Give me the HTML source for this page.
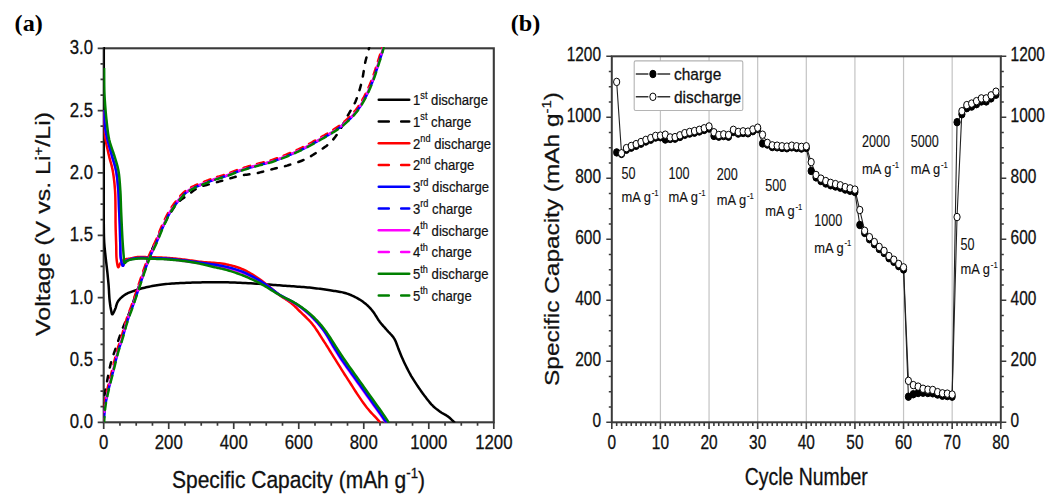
<!DOCTYPE html>
<html><head><meta charset="utf-8"><style>html,body{margin:0;padding:0;background:#fff;width:1051px;height:497px;overflow:hidden}svg{display:block}</style></head>
<body><svg width="1051" height="497" viewBox="0 0 1051 497" font-family="'Liberation Sans', sans-serif">
<rect width="1051" height="497" fill="#fff"/>
<text transform="translate(14.60,30.80) scale(1.09,1)" text-anchor="start" font-size="22.2" fill="#000" font-family="Liberation Serif" font-weight="bold">(a)</text>
<text transform="translate(510.80,30.80) scale(1.09,1)" text-anchor="start" font-size="22.2" fill="#000" font-family="Liberation Serif" font-weight="bold">(b)</text>
<path d="M97.7,422.30H103.7M100.5,406.72H103.7M100.5,391.13H103.7M100.5,375.55H103.7M97.7,359.97H103.7M100.5,344.38H103.7M100.5,328.80H103.7M100.5,313.22H103.7M97.7,297.63H103.7M100.5,282.05H103.7M100.5,266.47H103.7M100.5,250.88H103.7M97.7,235.30H103.7M100.5,219.72H103.7M100.5,204.13H103.7M100.5,188.55H103.7M97.7,172.97H103.7M100.5,157.38H103.7M100.5,141.80H103.7M100.5,126.22H103.7M97.7,110.63H103.7M100.5,95.05H103.7M100.5,79.47H103.7M100.5,63.88H103.7M97.7,48.30H103.7M103.70,422.3V429.1M119.95,422.3V425.7M136.21,422.3V425.7M152.46,422.3V425.7M168.72,422.3V429.1M184.97,422.3V425.7M201.23,422.3V425.7M217.48,422.3V425.7M233.73,422.3V429.1M249.99,422.3V425.7M266.24,422.3V425.7M282.50,422.3V425.7M298.75,422.3V429.1M315.00,422.3V425.7M331.26,422.3V425.7M347.51,422.3V425.7M363.77,422.3V429.1M380.02,422.3V425.7M396.27,422.3V425.7M412.53,422.3V425.7M428.78,422.3V429.1M445.04,422.3V425.7M461.29,422.3V425.7M477.55,422.3V425.7M493.80,422.3V429.1" stroke="#3a3a3a" stroke-width="1.7" fill="none"/>
<text transform="translate(93.00,428.20) scale(0.835,1)" text-anchor="end" font-size="20.1" fill="#111" stroke="#111" stroke-width="0.3">0.0</text>
<text transform="translate(93.00,365.87) scale(0.835,1)" text-anchor="end" font-size="20.1" fill="#111" stroke="#111" stroke-width="0.3">0.5</text>
<text transform="translate(93.00,303.53) scale(0.835,1)" text-anchor="end" font-size="20.1" fill="#111" stroke="#111" stroke-width="0.3">1.0</text>
<text transform="translate(93.00,241.20) scale(0.835,1)" text-anchor="end" font-size="20.1" fill="#111" stroke="#111" stroke-width="0.3">1.5</text>
<text transform="translate(93.00,178.87) scale(0.835,1)" text-anchor="end" font-size="20.1" fill="#111" stroke="#111" stroke-width="0.3">2.0</text>
<text transform="translate(93.00,116.53) scale(0.835,1)" text-anchor="end" font-size="20.1" fill="#111" stroke="#111" stroke-width="0.3">2.5</text>
<text transform="translate(93.00,54.20) scale(0.835,1)" text-anchor="end" font-size="20.1" fill="#111" stroke="#111" stroke-width="0.3">3.0</text>
<text transform="translate(103.70,449.00) scale(0.835,1)" text-anchor="middle" font-size="20.1" fill="#111" stroke="#111" stroke-width="0.3">0</text>
<text transform="translate(168.72,449.00) scale(0.835,1)" text-anchor="middle" font-size="20.1" fill="#111" stroke="#111" stroke-width="0.3">200</text>
<text transform="translate(233.73,449.00) scale(0.835,1)" text-anchor="middle" font-size="20.1" fill="#111" stroke="#111" stroke-width="0.3">400</text>
<text transform="translate(298.75,449.00) scale(0.835,1)" text-anchor="middle" font-size="20.1" fill="#111" stroke="#111" stroke-width="0.3">600</text>
<text transform="translate(363.77,449.00) scale(0.835,1)" text-anchor="middle" font-size="20.1" fill="#111" stroke="#111" stroke-width="0.3">800</text>
<text transform="translate(428.78,449.00) scale(0.835,1)" text-anchor="middle" font-size="20.1" fill="#111" stroke="#111" stroke-width="0.3">1000</text>
<text transform="translate(493.80,449.00) scale(0.835,1)" text-anchor="middle" font-size="20.1" fill="#111" stroke="#111" stroke-width="0.3">1200</text>
<text transform="translate(298.50,487.60) scale(0.893,1)" text-anchor="middle" font-size="23.5" fill="#111" stroke="#111" stroke-width="0.3">Specific Capacity (mAh g<tspan dy="-9.3" font-size="14.8">-1</tspan><tspan dy="9.3">)</tspan></text>
<text transform="translate(50.20,224.00) scale(0.8,1) rotate(-90)" text-anchor="middle" font-size="25.0" fill="#111" stroke="#111" stroke-width="0.3">Voltage (V vs. Li<tspan dy="-9.5" font-size="15">+</tspan><tspan dy="9.5">/Li)</tspan></text>
<defs><clipPath id="ca"><rect x="103.5" y="47" width="391" height="375.5"/></clipPath><clipPath id="cb"><rect x="611" y="55" width="391" height="368"/></clipPath></defs>
<rect x="103.7" y="48.3" width="390.10" height="374.00" fill="none" stroke="#3a3a3a" stroke-width="2.1"/>
<g clip-path="url(#ca)" fill="none" stroke-width="2.5" stroke-linejoin="round">
<path d="M103.80,47.00 L103.80,55.64 L103.80,64.36 L103.80,73.13 L103.80,81.94 L103.80,90.74 L103.80,99.52 L103.80,108.24 L103.80,116.87 L103.80,125.40 L103.80,133.78 L103.80,141.99 L103.80,150.00 L103.80,156.84 L103.79,163.80 L103.77,170.83 L103.76,177.85 L103.74,184.79 L103.73,191.57 L103.72,198.13 L103.72,204.38 L103.72,210.27 L103.73,215.72 L103.76,220.65 L103.80,225.00 L103.82,226.84 L103.84,228.55 L103.86,230.14 L103.87,231.62 L103.89,233.02 L103.92,234.36 L103.94,235.65 L103.98,236.90 L104.02,238.15 L104.07,239.40 L104.13,240.68 L104.20,242.00 L104.28,243.22 L104.36,244.41 L104.46,245.60 L104.56,246.77 L104.66,247.93 L104.78,249.09 L104.89,250.24 L105.01,251.39 L105.13,252.53 L105.26,253.68 L105.38,254.84 L105.50,256.00 L105.62,257.17 L105.75,258.33 L105.88,259.49 L106.02,260.65 L106.15,261.81 L106.29,262.97 L106.43,264.13 L106.57,265.29 L106.70,266.46 L106.84,267.64 L106.97,268.81 L107.10,270.00 L107.23,271.24 L107.37,272.48 L107.50,273.73 L107.63,274.99 L107.76,276.25 L107.89,277.51 L108.02,278.78 L108.14,280.04 L108.26,281.31 L108.38,282.58 L108.49,283.84 L108.60,285.10 L108.70,286.37 L108.78,287.65 L108.86,288.95 L108.94,290.25 L109.01,291.55 L109.07,292.85 L109.14,294.13 L109.22,295.40 L109.30,296.65 L109.39,297.87 L109.49,299.05 L109.60,300.20 L109.70,301.12 L109.81,302.04 L109.92,302.95 L110.04,303.86 L110.16,304.74 L110.29,305.61 L110.41,306.46 L110.55,307.28 L110.68,308.06 L110.82,308.82 L110.96,309.53 L111.10,310.20 L111.19,310.63 L111.28,311.08 L111.36,311.54 L111.45,312.00 L111.53,312.44 L111.62,312.86 L111.71,313.24 L111.81,313.58 L111.92,313.87 L112.03,314.09 L112.16,314.24 L112.30,314.30 L112.48,314.25 L112.68,314.08 L112.90,313.81 L113.13,313.44 L113.37,313.00 L113.62,312.50 L113.88,311.96 L114.13,311.39 L114.39,310.82 L114.63,310.25 L114.87,309.71 L115.10,309.20 L115.35,308.60 L115.58,307.96 L115.80,307.30 L116.00,306.62 L116.20,305.92 L116.41,305.22 L116.62,304.51 L116.85,303.81 L117.11,303.12 L117.40,302.46 L117.73,301.81 L118.10,301.20 L118.55,300.57 L119.03,299.95 L119.56,299.34 L120.12,298.74 L120.70,298.16 L121.31,297.59 L121.94,297.04 L122.58,296.51 L123.23,295.99 L123.89,295.50 L124.55,295.04 L125.20,294.60 L125.82,294.21 L126.46,293.85 L127.10,293.52 L127.75,293.21 L128.42,292.91 L129.09,292.63 L129.76,292.37 L130.44,292.11 L131.13,291.86 L131.82,291.61 L132.51,291.36 L133.20,291.10 L133.91,290.84 L134.61,290.58 L135.30,290.34 L136.00,290.10 L136.70,289.86 L137.40,289.64 L138.13,289.41 L138.87,289.19 L139.63,288.97 L140.42,288.75 L141.24,288.52 L142.10,288.30 L143.37,287.98 L144.71,287.66 L146.10,287.33 L147.55,287.00 L149.04,286.68 L150.57,286.36 L152.13,286.05 L153.72,285.75 L155.33,285.46 L156.95,285.19 L158.57,284.93 L160.20,284.70 L162.08,284.46 L164.01,284.24 L165.97,284.05 L167.96,283.87 L169.98,283.71 L172.02,283.57 L174.07,283.44 L176.13,283.32 L178.18,283.21 L180.24,283.10 L182.28,283.00 L184.30,282.90 L186.32,282.81 L188.35,282.72 L190.38,282.65 L192.41,282.58 L194.45,282.53 L196.48,282.48 L198.51,282.44 L200.54,282.40 L202.55,282.37 L204.55,282.34 L206.53,282.32 L208.50,282.30 L210.32,282.28 L212.11,282.27 L213.87,282.25 L215.61,282.24 L217.35,282.24 L219.08,282.24 L220.82,282.25 L222.59,282.26 L224.38,282.28 L226.20,282.31 L228.07,282.35 L230.00,282.40 L232.41,282.48 L234.91,282.57 L237.49,282.68 L240.12,282.80 L242.79,282.93 L245.49,283.07 L248.19,283.22 L250.88,283.37 L253.54,283.53 L256.16,283.69 L258.72,283.85 L261.20,284.00 L263.33,284.14 L265.41,284.28 L267.47,284.42 L269.50,284.57 L271.50,284.72 L273.50,284.88 L275.48,285.03 L277.45,285.19 L279.43,285.34 L281.41,285.50 L283.39,285.65 L285.40,285.80 L287.42,285.95 L289.44,286.09 L291.48,286.22 L293.51,286.36 L295.55,286.49 L297.58,286.63 L299.60,286.77 L301.62,286.91 L303.62,287.07 L305.60,287.23 L307.56,287.41 L309.50,287.60 L311.28,287.79 L313.05,287.99 L314.82,288.19 L316.58,288.41 L318.33,288.63 L320.06,288.86 L321.78,289.09 L323.47,289.33 L325.14,289.57 L326.79,289.81 L328.41,290.06 L330.00,290.30 L331.34,290.50 L332.67,290.70 L333.98,290.89 L335.28,291.08 L336.56,291.27 L337.82,291.47 L339.06,291.68 L340.29,291.90 L341.50,292.14 L342.68,292.40 L343.85,292.68 L345.00,293.00 L346.00,293.30 L346.97,293.61 L347.93,293.94 L348.88,294.29 L349.81,294.64 L350.72,295.02 L351.63,295.40 L352.52,295.79 L353.40,296.20 L354.28,296.62 L355.14,297.06 L356.00,297.50 L356.82,297.94 L357.63,298.39 L358.44,298.85 L359.23,299.32 L360.02,299.80 L360.79,300.30 L361.56,300.80 L362.31,301.32 L363.05,301.85 L363.78,302.39 L364.50,302.94 L365.20,303.50 L365.87,304.06 L366.52,304.62 L367.16,305.19 L367.78,305.77 L368.40,306.37 L369.00,306.97 L369.60,307.59 L370.19,308.22 L370.77,308.86 L371.35,309.53 L371.93,310.20 L372.50,310.90 L373.13,311.71 L373.75,312.57 L374.36,313.45 L374.95,314.37 L375.54,315.30 L376.12,316.24 L376.70,317.19 L377.29,318.13 L377.88,319.06 L378.47,319.97 L379.08,320.85 L379.70,321.70 L380.29,322.46 L380.88,323.20 L381.48,323.93 L382.09,324.64 L382.70,325.35 L383.32,326.05 L383.93,326.74 L384.55,327.42 L385.17,328.11 L385.78,328.80 L386.39,329.50 L387.00,330.20 L387.61,330.89 L388.23,331.58 L388.87,332.25 L389.50,332.92 L390.14,333.59 L390.77,334.26 L391.39,334.94 L392.00,335.63 L392.59,336.34 L393.16,337.07 L393.69,337.82 L394.20,338.60 L394.70,339.46 L395.16,340.36 L395.60,341.30 L396.01,342.26 L396.39,343.23 L396.77,344.22 L397.13,345.21 L397.48,346.20 L397.83,347.18 L398.18,348.14 L398.53,349.09 L398.90,350.00 L399.22,350.79 L399.54,351.55 L399.84,352.30 L400.13,353.03 L400.43,353.76 L400.72,354.48 L401.02,355.21 L401.32,355.95 L401.64,356.70 L401.97,357.47 L402.33,358.27 L402.70,359.10 L403.22,360.24 L403.77,361.43 L404.35,362.67 L404.96,363.94 L405.58,365.24 L406.22,366.55 L406.87,367.87 L407.54,369.18 L408.20,370.48 L408.87,371.76 L409.54,373.00 L410.20,374.20 L410.81,375.27 L411.42,376.33 L412.05,377.37 L412.67,378.40 L413.30,379.42 L413.94,380.43 L414.58,381.42 L415.22,382.41 L415.86,383.39 L416.51,384.37 L417.15,385.33 L417.80,386.30 L418.41,387.21 L419.03,388.12 L419.65,389.02 L420.26,389.91 L420.88,390.80 L421.51,391.68 L422.13,392.55 L422.76,393.41 L423.39,394.27 L424.02,395.12 L424.66,395.96 L425.30,396.80 L425.92,397.60 L426.53,398.40 L427.15,399.20 L427.77,400.00 L428.40,400.79 L429.03,401.57 L429.66,402.34 L430.29,403.09 L430.94,403.83 L431.58,404.54 L432.24,405.23 L432.90,405.90 L433.50,406.48 L434.11,407.03 L434.72,407.57 L435.34,408.10 L435.96,408.61 L436.59,409.11 L437.21,409.59 L437.85,410.07 L438.48,410.54 L439.12,411.00 L439.76,411.45 L440.40,411.90 L441.03,412.32 L441.66,412.72 L442.31,413.11 L442.97,413.48 L443.62,413.85 L444.28,414.22 L444.93,414.58 L445.58,414.94 L446.21,415.31 L446.82,415.69 L447.42,416.09 L448.00,416.50 L448.52,416.90 L449.04,417.32 L449.55,417.76 L450.07,418.22 L450.57,418.67 L451.06,419.13 L451.53,419.58 L451.98,420.02 L452.40,420.43 L452.80,420.82 L453.17,421.18 L453.50,421.50 L453.66,421.65 L453.81,421.80 L453.95,421.93 L454.07,422.06 L454.20,422.18 L454.31,422.30 L454.43,422.42 L454.54,422.53 L454.65,422.64 L454.76,422.76 L454.88,422.88 L455.00,423.00" stroke="#000"/>
<path d="M103.50,423.00 L103.51,421.91 L103.51,420.83 L103.51,419.74 L103.51,418.65 L103.51,417.56 L103.52,416.47 L103.52,415.38 L103.53,414.29 L103.54,413.21 L103.55,412.14 L103.57,411.06 L103.60,410.00 L103.63,408.99 L103.65,407.99 L103.68,407.00 L103.70,406.01 L103.73,405.03 L103.77,404.06 L103.81,403.07 L103.86,402.08 L103.93,401.08 L104.00,400.07 L104.09,399.05 L104.20,398.00 L104.34,396.79 L104.50,395.58 L104.68,394.35 L104.88,393.11 L105.09,391.86 L105.31,390.60 L105.54,389.32 L105.78,388.03 L106.03,386.72 L106.28,385.40 L106.54,384.06 L106.80,382.70 L107.11,381.08 L107.42,379.42 L107.74,377.71 L108.07,375.97 L108.41,374.20 L108.76,372.43 L109.13,370.66 L109.50,368.91 L109.88,367.17 L110.28,365.47 L110.68,363.81 L111.10,362.20 L111.48,360.83 L111.87,359.50 L112.28,358.19 L112.69,356.91 L113.12,355.64 L113.55,354.39 L113.98,353.14 L114.42,351.89 L114.87,350.64 L115.31,349.37 L115.76,348.10 L116.20,346.80 L116.66,345.42 L117.12,344.04 L117.59,342.65 L118.05,341.25 L118.51,339.85 L118.99,338.45 L119.46,337.04 L119.95,335.63 L120.44,334.22 L120.95,332.81 L121.47,331.40 L122.00,330.00 L122.57,328.56 L123.16,327.11 L123.77,325.67 L124.39,324.23 L125.03,322.80 L125.67,321.35 L126.31,319.91 L126.95,318.46 L127.58,317.01 L128.20,315.55 L128.81,314.08 L129.40,312.60 L129.98,311.07 L130.56,309.53 L131.12,307.97 L131.68,306.41 L132.23,304.84 L132.77,303.26 L133.31,301.69 L133.85,300.12 L134.38,298.57 L134.92,297.03 L135.46,295.50 L136.00,294.00 L136.50,292.63 L137.00,291.30 L137.50,289.99 L137.99,288.70 L138.48,287.41 L138.98,286.13 L139.47,284.84 L139.97,283.54 L140.47,282.21 L140.97,280.85 L141.48,279.45 L142.00,278.00 L142.64,276.16 L143.28,274.23 L143.92,272.23 L144.57,270.17 L145.22,268.08 L145.88,265.98 L146.54,263.88 L147.22,261.79 L147.90,259.74 L148.59,257.75 L149.29,255.83 L150.00,254.00 L150.61,252.53 L151.23,251.10 L151.86,249.70 L152.50,248.33 L153.15,246.99 L153.80,245.67 L154.45,244.37 L155.09,243.08 L155.74,241.80 L156.37,240.53 L156.99,239.27 L157.60,238.00 L158.14,236.86 L158.66,235.74 L159.17,234.62 L159.68,233.52 L160.18,232.42 L160.68,231.34 L161.18,230.26 L161.69,229.18 L162.20,228.11 L162.72,227.04 L163.25,225.97 L163.80,224.90 L164.36,223.83 L164.92,222.75 L165.50,221.67 L166.07,220.59 L166.66,219.52 L167.25,218.45 L167.85,217.39 L168.45,216.34 L169.06,215.31 L169.67,214.28 L170.28,213.28 L170.90,212.30 L171.46,211.41 L172.02,210.53 L172.58,209.65 L173.13,208.78 L173.70,207.92 L174.26,207.08 L174.84,206.25 L175.43,205.44 L176.04,204.64 L176.67,203.87 L177.32,203.12 L178.00,202.40 L178.69,201.72 L179.40,201.08 L180.14,200.47 L180.89,199.88 L181.66,199.31 L182.44,198.75 L183.24,198.20 L184.04,197.65 L184.85,197.10 L185.67,196.55 L186.48,195.98 L187.30,195.40 L188.18,194.75 L189.07,194.07 L189.96,193.38 L190.86,192.68 L191.77,191.98 L192.68,191.28 L193.61,190.60 L194.55,189.94 L195.51,189.30 L196.48,188.69 L197.48,188.12 L198.50,187.60 L199.59,187.11 L200.71,186.66 L201.87,186.26 L203.05,185.89 L204.24,185.54 L205.45,185.22 L206.66,184.92 L207.87,184.62 L209.08,184.32 L210.27,184.03 L211.45,183.72 L212.60,183.40 L213.66,183.09 L214.70,182.80 L215.73,182.50 L216.75,182.21 L217.76,181.93 L218.77,181.64 L219.79,181.36 L220.81,181.07 L221.83,180.79 L222.87,180.50 L223.93,180.20 L225.00,179.90 L226.20,179.56 L227.41,179.20 L228.63,178.83 L229.87,178.46 L231.11,178.08 L232.36,177.71 L233.63,177.34 L234.89,176.98 L236.16,176.63 L237.44,176.30 L238.72,175.99 L240.00,175.70 L241.32,175.44 L242.64,175.21 L243.97,175.00 L245.32,174.82 L246.66,174.65 L248.01,174.48 L249.36,174.32 L250.72,174.15 L252.07,173.97 L253.42,173.77 L254.76,173.55 L256.10,173.30 L257.45,173.02 L258.79,172.71 L260.14,172.39 L261.48,172.05 L262.82,171.71 L264.16,171.35 L265.50,170.99 L266.84,170.62 L268.18,170.26 L269.52,169.90 L270.86,169.54 L272.20,169.20 L273.54,168.87 L274.89,168.55 L276.23,168.23 L277.57,167.92 L278.92,167.60 L280.26,167.29 L281.61,166.97 L282.95,166.64 L284.29,166.30 L285.63,165.95 L286.97,165.59 L288.30,165.20 L289.65,164.80 L291.00,164.40 L292.36,163.99 L293.71,163.58 L295.06,163.15 L296.41,162.71 L297.75,162.26 L299.10,161.78 L300.43,161.28 L301.76,160.75 L303.08,160.19 L304.40,159.60 L305.78,158.93 L307.18,158.21 L308.59,157.45 L309.99,156.66 L311.39,155.84 L312.78,155.00 L314.15,154.15 L315.50,153.30 L316.81,152.45 L318.09,151.61 L319.32,150.79 L320.50,150.00 L321.42,149.39 L322.31,148.79 L323.17,148.20 L324.02,147.63 L324.85,147.05 L325.65,146.47 L326.44,145.89 L327.22,145.29 L327.98,144.68 L328.73,144.05 L329.47,143.39 L330.20,142.70 L330.93,141.97 L331.64,141.23 L332.33,140.47 L333.00,139.70 L333.65,138.91 L334.30,138.10 L334.94,137.28 L335.57,136.43 L336.20,135.56 L336.83,134.66 L337.46,133.74 L338.10,132.80 L338.88,131.60 L339.65,130.34 L340.43,129.03 L341.19,127.68 L341.96,126.29 L342.72,124.88 L343.47,123.46 L344.23,122.04 L344.97,120.62 L345.72,119.22 L346.46,117.84 L347.20,116.50 L347.90,115.27 L348.60,114.07 L349.31,112.89 L350.02,111.72 L350.72,110.55 L351.42,109.39 L352.11,108.22 L352.79,107.03 L353.45,105.82 L354.09,104.59 L354.71,103.31 L355.30,102.00 L355.94,100.47 L356.56,98.90 L357.17,97.28 L357.75,95.63 L358.31,93.96 L358.85,92.26 L359.37,90.55 L359.88,88.83 L360.36,87.11 L360.83,85.39 L361.27,83.69 L361.70,82.00 L362.09,80.34 L362.44,78.65 L362.77,76.95 L363.07,75.24 L363.35,73.53 L363.62,71.82 L363.88,70.13 L364.14,68.45 L364.41,66.81 L364.69,65.19 L364.98,63.62 L365.30,62.10 L365.59,60.84 L365.91,59.55 L366.25,58.25 L366.60,56.96 L366.95,55.69 L367.30,54.45 L367.64,53.26 L367.96,52.13 L368.25,51.08 L368.51,50.11 L368.73,49.25 L368.90,48.50 L368.96,48.22 L369.01,47.97 L369.05,47.74 L369.08,47.52 L369.11,47.32 L369.14,47.13 L369.17,46.94 L369.19,46.76 L369.22,46.58 L369.24,46.39 L369.27,46.20 L369.30,46.00" stroke="#000" stroke-dasharray="5.5,8.5" stroke-linecap="round"/>
<path d="M103.80,112.00 L103.84,113.09 L103.88,114.19 L103.92,115.29 L103.96,116.40 L104.00,117.50 L104.05,118.61 L104.09,119.70 L104.13,120.79 L104.17,121.87 L104.21,122.93 L104.26,123.98 L104.30,125.00 L104.33,125.87 L104.36,126.70 L104.38,127.51 L104.39,128.31 L104.41,129.09 L104.43,129.88 L104.45,130.67 L104.49,131.47 L104.54,132.30 L104.61,133.16 L104.69,134.06 L104.80,135.00 L105.00,136.44 L105.24,137.98 L105.52,139.60 L105.83,141.28 L106.17,143.01 L106.53,144.76 L106.91,146.54 L107.29,148.30 L107.68,150.05 L108.07,151.76 L108.44,153.42 L108.80,155.00 L109.11,156.32 L109.43,157.60 L109.77,158.85 L110.10,160.08 L110.44,161.29 L110.78,162.49 L111.11,163.70 L111.44,164.91 L111.75,166.14 L112.05,167.39 L112.34,168.67 L112.60,170.00 L112.88,171.56 L113.14,173.15 L113.39,174.78 L113.62,176.44 L113.84,178.11 L114.05,179.80 L114.24,181.51 L114.42,183.21 L114.58,184.92 L114.73,186.63 L114.87,188.32 L115.00,190.00 L115.11,191.67 L115.20,193.36 L115.27,195.06 L115.32,196.77 L115.36,198.47 L115.39,200.18 L115.42,201.87 L115.43,203.54 L115.45,205.20 L115.46,206.83 L115.48,208.43 L115.50,210.00 L115.52,211.32 L115.53,212.60 L115.54,213.85 L115.54,215.08 L115.54,216.29 L115.54,217.50 L115.55,218.71 L115.55,219.92 L115.55,221.15 L115.56,222.40 L115.58,223.68 L115.60,225.00 L115.63,226.58 L115.67,228.20 L115.71,229.87 L115.76,231.56 L115.81,233.28 L115.87,235.00 L115.93,236.73 L115.98,238.44 L116.04,240.13 L116.10,241.80 L116.15,243.42 L116.20,245.00 L116.24,246.34 L116.26,247.69 L116.28,249.03 L116.29,250.37 L116.30,251.68 L116.32,252.98 L116.34,254.25 L116.38,255.49 L116.43,256.69 L116.50,257.85 L116.59,258.95 L116.70,260.00 L116.79,260.74 L116.90,261.52 L117.00,262.32 L117.12,263.12 L117.24,263.90 L117.37,264.64 L117.51,265.32 L117.65,265.93 L117.81,266.44 L117.96,266.83 L118.13,267.09 L118.30,267.20 L118.43,267.17 L118.55,267.04 L118.68,266.84 L118.81,266.57 L118.94,266.26 L119.08,265.90 L119.23,265.52 L119.38,265.13 L119.54,264.74 L119.71,264.36 L119.90,264.01 L120.10,263.70 L120.35,263.36 L120.62,263.00 L120.90,262.64 L121.19,262.28 L121.50,261.92 L121.82,261.57 L122.15,261.22 L122.50,260.89 L122.86,260.58 L123.23,260.29 L123.61,260.03 L124.00,259.80 L124.43,259.60 L124.88,259.43 L125.34,259.29 L125.82,259.19 L126.32,259.10 L126.82,259.02 L127.34,258.96 L127.86,258.90 L128.39,258.84 L128.93,258.78 L129.46,258.70 L130.00,258.60 L130.62,258.47 L131.26,258.33 L131.90,258.18 L132.54,258.02 L133.20,257.86 L133.86,257.71 L134.54,257.56 L135.22,257.42 L135.90,257.29 L136.59,257.17 L137.29,257.08 L138.00,257.00 L138.79,256.94 L139.58,256.91 L140.37,256.90 L141.16,256.90 L141.97,256.92 L142.79,256.96 L143.62,257.00 L144.47,257.04 L145.34,257.09 L146.23,257.13 L147.15,257.17 L148.10,257.20 L149.42,257.23 L150.81,257.26 L152.26,257.30 L153.75,257.33 L155.27,257.36 L156.82,257.40 L158.40,257.45 L159.98,257.50 L161.55,257.56 L163.12,257.63 L164.68,257.71 L166.20,257.80 L167.71,257.91 L169.22,258.02 L170.73,258.15 L172.24,258.29 L173.74,258.44 L175.25,258.59 L176.76,258.75 L178.27,258.91 L179.77,259.08 L181.28,259.25 L182.79,259.43 L184.30,259.60 L185.81,259.78 L187.31,259.97 L188.80,260.17 L190.29,260.37 L191.78,260.58 L193.28,260.79 L194.78,261.00 L196.29,261.21 L197.81,261.42 L199.35,261.62 L200.91,261.81 L202.50,262.00 L204.30,262.18 L206.14,262.34 L208.02,262.47 L209.92,262.60 L211.85,262.72 L213.77,262.84 L215.70,262.97 L217.62,263.13 L219.52,263.31 L221.39,263.53 L223.22,263.79 L225.00,264.10 L226.59,264.42 L228.16,264.75 L229.71,265.10 L231.24,265.48 L232.76,265.87 L234.26,266.29 L235.75,266.74 L237.23,267.22 L238.70,267.74 L240.17,268.29 L241.63,268.87 L243.10,269.50 L244.65,270.21 L246.19,270.97 L247.72,271.78 L249.24,272.63 L250.76,273.52 L252.27,274.44 L253.77,275.38 L255.27,276.36 L256.76,277.35 L258.24,278.36 L259.72,279.37 L261.20,280.40 L262.75,281.51 L264.31,282.69 L265.86,283.91 L267.42,285.16 L268.97,286.44 L270.51,287.73 L272.03,289.01 L273.54,290.28 L275.02,291.51 L276.48,292.70 L277.91,293.84 L279.30,294.90 L280.39,295.70 L281.47,296.45 L282.53,297.18 L283.58,297.88 L284.62,298.56 L285.65,299.23 L286.65,299.89 L287.64,300.55 L288.61,301.21 L289.56,301.89 L290.49,302.58 L291.40,303.30 L292.19,303.96 L292.94,304.61 L293.67,305.26 L294.38,305.92 L295.07,306.58 L295.75,307.25 L296.43,307.92 L297.12,308.61 L297.81,309.31 L298.52,310.02 L299.24,310.75 L300.00,311.50 L300.95,312.42 L301.92,313.36 L302.92,314.31 L303.94,315.27 L304.97,316.26 L306.01,317.26 L307.05,318.29 L308.09,319.34 L309.12,320.41 L310.13,321.51 L311.13,322.64 L312.10,323.80 L313.18,325.16 L314.26,326.61 L315.34,328.12 L316.42,329.69 L317.48,331.28 L318.53,332.89 L319.56,334.49 L320.56,336.07 L321.53,337.61 L322.47,339.09 L323.36,340.49 L324.20,341.80 L324.75,342.65 L325.26,343.44 L325.74,344.19 L326.19,344.90 L326.62,345.58 L327.04,346.27 L327.47,346.96 L327.92,347.67 L328.38,348.41 L328.88,349.21 L329.41,350.06 L330.00,351.00 L331.15,352.83 L332.42,354.86 L333.79,357.06 L335.25,359.40 L336.77,361.85 L338.35,364.37 L339.96,366.95 L341.60,369.55 L343.23,372.15 L344.86,374.71 L346.45,377.20 L348.00,379.60 L349.50,381.93 L351.02,384.29 L352.54,386.67 L354.07,389.07 L355.60,391.45 L357.14,393.81 L358.67,396.14 L360.20,398.43 L361.72,400.65 L363.22,402.79 L364.72,404.85 L366.20,406.80 L367.40,408.30 L368.68,409.81 L370.00,411.31 L371.34,412.79 L372.68,414.23 L373.98,415.61 L375.23,416.93 L376.40,418.17 L377.47,419.31 L378.41,420.33 L379.19,421.24 L379.80,422.00 L379.96,422.22 L380.10,422.43 L380.22,422.61 L380.33,422.78 L380.42,422.95 L380.51,423.10 L380.59,423.25 L380.66,423.39 L380.74,423.54 L380.82,423.69 L380.91,423.84 L381.00,424.00" stroke="#ff0000"/>
<path d="M103.00,422.20 L103.02,421.79 L103.03,421.39 L103.04,421.00 L103.05,420.62 L103.06,420.23 L103.07,419.85 L103.09,419.45 L103.10,419.04 L103.12,418.61 L103.14,418.17 L103.17,417.70 L103.20,417.20 L103.26,416.33 L103.32,415.39 L103.39,414.38 L103.47,413.33 L103.55,412.23 L103.65,411.10 L103.75,409.94 L103.86,408.78 L103.98,407.61 L104.11,406.45 L104.25,405.31 L104.40,404.20 L104.57,403.08 L104.75,401.96 L104.94,400.86 L105.14,399.75 L105.35,398.64 L105.58,397.53 L105.81,396.41 L106.05,395.27 L106.30,394.12 L106.56,392.94 L106.82,391.74 L107.10,390.50 L107.46,388.93 L107.84,387.32 L108.23,385.66 L108.65,383.96 L109.08,382.24 L109.52,380.50 L109.97,378.74 L110.42,376.98 L110.87,375.22 L111.32,373.46 L111.77,371.72 L112.20,370.00 L112.63,368.27 L113.07,366.50 L113.51,364.71 L113.95,362.90 L114.39,361.10 L114.83,359.30 L115.27,357.54 L115.70,355.80 L116.13,354.12 L116.56,352.50 L116.98,350.96 L117.40,349.50 L117.69,348.52 L117.97,347.61 L118.25,346.75 L118.53,345.92 L118.80,345.12 L119.08,344.34 L119.35,343.55 L119.63,342.75 L119.91,341.93 L120.20,341.07 L120.49,340.17 L120.80,339.20 L121.24,337.75 L121.69,336.21 L122.16,334.58 L122.63,332.88 L123.12,331.14 L123.61,329.37 L124.11,327.60 L124.61,325.83 L125.11,324.08 L125.61,322.39 L126.11,320.75 L126.60,319.20 L127.01,317.96 L127.42,316.76 L127.84,315.59 L128.25,314.45 L128.67,313.33 L129.08,312.21 L129.50,311.11 L129.91,310.00 L130.33,308.88 L130.75,307.75 L131.18,306.59 L131.60,305.40 L132.06,304.07 L132.53,302.74 L132.99,301.40 L133.45,300.05 L133.91,298.69 L134.38,297.32 L134.85,295.93 L135.33,294.52 L135.81,293.10 L136.30,291.65 L136.79,290.19 L137.30,288.70 L137.91,286.89 L138.55,284.99 L139.21,283.03 L139.89,281.02 L140.57,278.98 L141.25,276.94 L141.94,274.92 L142.61,272.94 L143.27,271.01 L143.91,269.17 L144.52,267.42 L145.10,265.80 L145.48,264.75 L145.84,263.77 L146.19,262.83 L146.52,261.93 L146.85,261.06 L147.17,260.21 L147.50,259.36 L147.83,258.52 L148.17,257.66 L148.53,256.78 L148.90,255.86 L149.30,254.90 L149.82,253.69 L150.36,252.44 L150.94,251.16 L151.53,249.86 L152.14,248.54 L152.75,247.21 L153.38,245.86 L154.00,244.52 L154.62,243.17 L155.23,241.84 L155.82,240.51 L156.40,239.20 L156.94,237.93 L157.47,236.66 L158.00,235.39 L158.51,234.12 L159.02,232.86 L159.53,231.59 L160.04,230.33 L160.55,229.07 L161.07,227.82 L161.60,226.57 L162.14,225.33 L162.70,224.10 L163.26,222.89 L163.82,221.67 L164.39,220.45 L164.96,219.23 L165.54,218.02 L166.13,216.81 L166.73,215.62 L167.33,214.45 L167.94,213.29 L168.55,212.16 L169.17,211.07 L169.80,210.00 L170.36,209.10 L170.92,208.21 L171.49,207.35 L172.06,206.50 L172.64,205.68 L173.22,204.86 L173.81,204.06 L174.40,203.27 L175.00,202.49 L175.59,201.72 L176.20,200.96 L176.80,200.20 L177.37,199.50 L177.93,198.79 L178.50,198.10 L179.08,197.40 L179.66,196.72 L180.24,196.05 L180.82,195.39 L181.41,194.75 L182.00,194.13 L182.60,193.53 L183.20,192.95 L183.80,192.40 L184.33,191.94 L184.87,191.50 L185.40,191.08 L185.94,190.67 L186.49,190.28 L187.03,189.90 L187.58,189.53 L188.14,189.17 L188.69,188.82 L189.26,188.47 L189.83,188.14 L190.40,187.80 L190.97,187.48 L191.54,187.17 L192.11,186.87 L192.68,186.59 L193.26,186.31 L193.84,186.04 L194.43,185.78 L195.03,185.51 L195.65,185.24 L196.28,184.97 L196.93,184.69 L197.60,184.40 L198.50,184.02 L199.47,183.62 L200.49,183.21 L201.55,182.79 L202.62,182.37 L203.71,181.95 L204.79,181.54 L205.85,181.13 L206.87,180.74 L207.85,180.37 L208.76,180.02 L209.60,179.70 L210.10,179.50 L210.57,179.32 L211.01,179.14 L211.43,178.97 L211.83,178.81 L212.23,178.65 L212.62,178.50 L213.02,178.34 L213.43,178.19 L213.86,178.03 L214.31,177.87 L214.80,177.70 L215.49,177.47 L216.20,177.25 L216.94,177.02 L217.70,176.80 L218.49,176.58 L219.29,176.35 L220.11,176.12 L220.94,175.88 L221.79,175.63 L222.65,175.36 L223.52,175.09 L224.40,174.80 L225.54,174.41 L226.71,173.98 L227.91,173.53 L229.14,173.06 L230.39,172.57 L231.66,172.08 L232.94,171.58 L234.23,171.08 L235.53,170.59 L236.82,170.11 L238.11,169.64 L239.40,169.20 L240.72,168.77 L242.04,168.34 L243.37,167.92 L244.71,167.51 L246.05,167.11 L247.40,166.71 L248.75,166.32 L250.10,165.93 L251.45,165.54 L252.80,165.16 L254.15,164.78 L255.50,164.40 L256.84,164.03 L258.18,163.68 L259.53,163.33 L260.87,162.99 L262.22,162.66 L263.56,162.33 L264.91,161.99 L266.25,161.64 L267.59,161.28 L268.93,160.91 L270.27,160.52 L271.60,160.10 L272.95,159.66 L274.30,159.20 L275.65,158.72 L276.99,158.24 L278.34,157.74 L279.68,157.23 L281.02,156.71 L282.36,156.18 L283.70,155.64 L285.03,155.10 L286.37,154.55 L287.70,154.00 L289.05,153.44 L290.40,152.86 L291.75,152.29 L293.09,151.70 L294.44,151.11 L295.78,150.51 L297.12,149.90 L298.46,149.28 L299.80,148.65 L301.14,148.01 L302.47,147.36 L303.80,146.70 L305.17,146.00 L306.55,145.28 L307.94,144.53 L309.34,143.77 L310.74,143.00 L312.13,142.22 L313.50,141.45 L314.85,140.68 L316.17,139.92 L317.46,139.19 L318.70,138.48 L319.90,137.80 L320.79,137.30 L321.65,136.82 L322.47,136.36 L323.27,135.92 L324.06,135.48 L324.83,135.05 L325.60,134.61 L326.37,134.16 L327.14,133.71 L327.94,133.23 L328.76,132.73 L329.60,132.20 L330.66,131.53 L331.74,130.84 L332.85,130.14 L333.98,129.41 L335.12,128.66 L336.27,127.90 L337.42,127.11 L338.56,126.31 L339.70,125.48 L340.82,124.64 L341.92,123.78 L343.00,122.90 L344.11,121.95 L345.22,120.98 L346.33,119.99 L347.43,118.97 L348.52,117.93 L349.60,116.87 L350.66,115.80 L351.70,114.70 L352.72,113.60 L353.71,112.48 L354.67,111.34 L355.60,110.20 L356.48,109.07 L357.32,107.92 L358.15,106.75 L358.94,105.57 L359.72,104.38 L360.48,103.17 L361.21,101.95 L361.93,100.72 L362.64,99.48 L363.34,98.23 L364.02,96.97 L364.70,95.70 L365.38,94.40 L366.04,93.07 L366.69,91.74 L367.32,90.39 L367.93,89.03 L368.53,87.66 L369.12,86.29 L369.70,84.91 L370.26,83.53 L370.82,82.15 L371.36,80.77 L371.90,79.40 L372.42,78.05 L372.92,76.69 L373.40,75.32 L373.88,73.95 L374.34,72.58 L374.79,71.21 L375.24,69.84 L375.68,68.48 L376.11,67.12 L376.54,65.77 L376.97,64.43 L377.40,63.10 L377.81,61.83 L378.23,60.52 L378.67,59.19 L379.10,57.84 L379.53,56.50 L379.95,55.18 L380.35,53.89 L380.73,52.66 L381.08,51.50 L381.40,50.43 L381.67,49.46 L381.90,48.60 L381.99,48.24 L382.07,47.90 L382.14,47.59 L382.20,47.30 L382.26,47.02 L382.31,46.76 L382.36,46.50 L382.40,46.25 L382.45,46.00 L382.49,45.74 L382.54,45.48 L382.60,45.20" stroke="#ff0000" stroke-dasharray="7,7" stroke-linecap="round" stroke-dashoffset="11"/>
<path d="M103.80,110.00 L103.85,111.00 L103.89,112.00 L103.92,112.99 L103.95,113.98 L103.99,114.98 L104.02,115.97 L104.06,116.97 L104.11,117.97 L104.16,118.97 L104.23,119.98 L104.31,120.99 L104.40,122.00 L104.51,123.06 L104.63,124.11 L104.76,125.16 L104.89,126.20 L105.03,127.25 L105.19,128.31 L105.36,129.38 L105.54,130.46 L105.73,131.56 L105.94,132.68 L106.16,133.82 L106.40,135.00 L106.73,136.53 L107.11,138.13 L107.52,139.78 L107.95,141.47 L108.41,143.19 L108.89,144.92 L109.37,146.66 L109.85,148.40 L110.34,150.11 L110.81,151.79 L111.27,153.42 L111.70,155.00 L112.07,156.32 L112.44,157.60 L112.82,158.85 L113.20,160.07 L113.58,161.28 L113.95,162.49 L114.31,163.69 L114.66,164.90 L115.00,166.13 L115.32,167.39 L115.62,168.67 L115.90,170.00 L116.19,171.56 L116.46,173.15 L116.72,174.78 L116.95,176.43 L117.16,178.11 L117.36,179.80 L117.54,181.50 L117.71,183.21 L117.87,184.92 L118.02,186.63 L118.16,188.32 L118.30,190.00 L118.42,191.67 L118.53,193.36 L118.61,195.06 L118.68,196.77 L118.75,198.47 L118.80,200.18 L118.85,201.87 L118.89,203.54 L118.94,205.20 L118.98,206.83 L119.04,208.43 L119.10,210.00 L119.16,211.32 L119.22,212.60 L119.28,213.85 L119.34,215.08 L119.40,216.29 L119.47,217.50 L119.53,218.71 L119.58,219.92 L119.64,221.15 L119.70,222.40 L119.75,223.68 L119.80,225.00 L119.85,226.58 L119.90,228.22 L119.95,229.90 L119.99,231.61 L120.02,233.35 L120.06,235.09 L120.10,236.83 L120.14,238.54 L120.17,240.23 L120.21,241.88 L120.25,243.47 L120.30,245.00 L120.33,246.19 L120.35,247.37 L120.36,248.53 L120.37,249.67 L120.38,250.79 L120.39,251.89 L120.42,252.97 L120.45,254.03 L120.50,255.06 L120.58,256.07 L120.67,257.05 L120.80,258.00 L120.92,258.77 L121.06,259.60 L121.21,260.46 L121.38,261.32 L121.55,262.17 L121.74,262.98 L121.93,263.73 L122.12,264.40 L122.32,264.97 L122.51,265.40 L122.71,265.69 L122.90,265.80 L123.02,265.76 L123.14,265.64 L123.25,265.44 L123.36,265.17 L123.48,264.87 L123.59,264.52 L123.71,264.16 L123.85,263.78 L123.99,263.42 L124.14,263.07 L124.31,262.76 L124.50,262.50 L124.72,262.25 L124.95,262.01 L125.19,261.77 L125.44,261.54 L125.71,261.32 L125.99,261.11 L126.28,260.91 L126.59,260.71 L126.91,260.52 L127.26,260.34 L127.62,260.17 L128.00,260.00 L128.64,259.76 L129.34,259.55 L130.10,259.35 L130.91,259.18 L131.76,259.02 L132.64,258.88 L133.54,258.76 L134.45,258.64 L135.36,258.54 L136.26,258.45 L137.14,258.37 L138.00,258.30 L138.83,258.24 L139.64,258.20 L140.45,258.17 L141.25,258.16 L142.05,258.16 L142.86,258.17 L143.68,258.18 L144.51,258.20 L145.37,258.23 L146.25,258.25 L147.16,258.28 L148.10,258.30 L149.43,258.33 L150.81,258.36 L152.26,258.39 L153.75,258.43 L155.27,258.47 L156.83,258.52 L158.40,258.58 L159.98,258.64 L161.56,258.72 L163.13,258.80 L164.68,258.89 L166.20,259.00 L167.71,259.12 L169.22,259.25 L170.73,259.39 L172.24,259.54 L173.75,259.70 L175.25,259.87 L176.76,260.05 L178.27,260.23 L179.78,260.41 L181.28,260.61 L182.79,260.80 L184.30,261.00 L185.81,261.20 L187.31,261.41 L188.81,261.63 L190.30,261.85 L191.79,262.08 L193.28,262.31 L194.78,262.55 L196.29,262.79 L197.82,263.03 L199.36,263.29 L200.92,263.54 L202.50,263.80 L204.30,264.09 L206.15,264.38 L208.02,264.67 L209.93,264.96 L211.85,265.26 L213.77,265.57 L215.70,265.89 L217.61,266.22 L219.51,266.56 L221.38,266.92 L223.21,267.30 L225.00,267.70 L226.59,268.07 L228.15,268.45 L229.70,268.83 L231.22,269.22 L232.73,269.62 L234.23,270.04 L235.71,270.47 L237.19,270.92 L238.67,271.40 L240.14,271.90 L241.62,272.44 L243.10,273.00 L244.63,273.61 L246.16,274.26 L247.69,274.92 L249.21,275.62 L250.73,276.34 L252.24,277.08 L253.75,277.85 L255.25,278.63 L256.75,279.44 L258.24,280.28 L259.72,281.13 L261.20,282.00 L262.74,282.95 L264.26,283.96 L265.77,285.01 L267.27,286.09 L268.77,287.20 L270.27,288.32 L271.76,289.44 L273.25,290.56 L274.75,291.67 L276.26,292.75 L277.77,293.80 L279.30,294.80 L280.81,295.73 L282.33,296.62 L283.88,297.49 L285.43,298.33 L286.99,299.16 L288.55,299.98 L290.09,300.80 L291.63,301.63 L293.14,302.48 L294.63,303.35 L296.08,304.26 L297.50,305.20 L298.82,306.13 L300.11,307.07 L301.39,308.02 L302.65,308.99 L303.89,309.97 L305.12,310.97 L306.32,311.99 L307.51,313.02 L308.68,314.06 L309.84,315.13 L310.98,316.20 L312.10,317.30 L313.20,318.41 L314.29,319.54 L315.36,320.68 L316.42,321.85 L317.46,323.03 L318.48,324.22 L319.48,325.43 L320.47,326.65 L321.43,327.88 L322.38,329.11 L323.30,330.35 L324.20,331.60 L325.05,332.83 L325.86,334.07 L326.64,335.34 L327.41,336.61 L328.15,337.90 L328.88,339.19 L329.60,340.49 L330.31,341.77 L331.03,343.05 L331.74,344.32 L332.46,345.57 L333.20,346.80 L333.88,347.92 L334.54,349.00 L335.18,350.06 L335.82,351.09 L336.45,352.12 L337.09,353.15 L337.74,354.20 L338.41,355.27 L339.12,356.37 L339.86,357.52 L340.66,358.73 L341.50,360.00 L342.91,362.08 L344.45,364.31 L346.09,366.65 L347.82,369.09 L349.62,371.61 L351.48,374.20 L353.37,376.83 L355.28,379.49 L357.20,382.15 L359.11,384.80 L360.98,387.43 L362.80,390.00 L364.75,392.75 L366.86,395.71 L369.09,398.81 L371.37,401.99 L373.66,405.18 L375.89,408.31 L378.02,411.31 L380.00,414.11 L381.75,416.65 L383.24,418.85 L384.41,420.66 L385.20,422.00 L385.33,422.24 L385.43,422.45 L385.52,422.65 L385.59,422.82 L385.65,422.98 L385.71,423.13 L385.75,423.27 L385.80,423.41 L385.84,423.55 L385.89,423.69 L385.94,423.84 L386.00,424.00" stroke="#ff00ff"/>
<path d="M103.90,423.60 L103.92,423.19 L103.93,422.79 L103.94,422.40 L103.95,422.02 L103.96,421.63 L103.97,421.25 L103.99,420.85 L104.00,420.44 L104.02,420.01 L104.04,419.57 L104.07,419.10 L104.10,418.60 L104.16,417.73 L104.22,416.79 L104.29,415.78 L104.37,414.73 L104.45,413.63 L104.55,412.50 L104.65,411.34 L104.76,410.18 L104.88,409.01 L105.01,407.85 L105.15,406.71 L105.30,405.60 L105.47,404.48 L105.65,403.36 L105.84,402.26 L106.04,401.15 L106.25,400.04 L106.48,398.93 L106.71,397.81 L106.95,396.67 L107.20,395.52 L107.46,394.34 L107.72,393.14 L108.00,391.90 L108.36,390.33 L108.74,388.72 L109.13,387.06 L109.55,385.36 L109.98,383.64 L110.42,381.90 L110.87,380.14 L111.32,378.38 L111.77,376.62 L112.22,374.86 L112.67,373.12 L113.10,371.40 L113.53,369.67 L113.97,367.90 L114.41,366.11 L114.85,364.30 L115.29,362.50 L115.73,360.70 L116.17,358.94 L116.60,357.20 L117.03,355.52 L117.46,353.90 L117.88,352.36 L118.30,350.90 L118.59,349.92 L118.87,349.01 L119.15,348.15 L119.43,347.32 L119.70,346.52 L119.98,345.74 L120.25,344.95 L120.53,344.15 L120.81,343.33 L121.10,342.47 L121.39,341.57 L121.70,340.60 L122.14,339.15 L122.59,337.61 L123.06,335.98 L123.53,334.28 L124.02,332.54 L124.51,330.77 L125.01,329.00 L125.51,327.23 L126.01,325.48 L126.51,323.79 L127.01,322.15 L127.50,320.60 L127.91,319.36 L128.32,318.16 L128.74,316.99 L129.15,315.85 L129.57,314.73 L129.98,313.61 L130.40,312.51 L130.81,311.40 L131.23,310.28 L131.65,309.15 L132.08,307.99 L132.50,306.80 L132.96,305.47 L133.43,304.14 L133.89,302.80 L134.35,301.45 L134.81,300.09 L135.28,298.72 L135.75,297.33 L136.23,295.92 L136.71,294.50 L137.20,293.05 L137.69,291.59 L138.20,290.10 L138.81,288.29 L139.45,286.39 L140.11,284.43 L140.79,282.42 L141.47,280.38 L142.15,278.34 L142.84,276.32 L143.51,274.34 L144.17,272.41 L144.81,270.57 L145.42,268.82 L146.00,267.20 L146.38,266.15 L146.74,265.17 L147.09,264.23 L147.42,263.33 L147.75,262.46 L148.07,261.61 L148.40,260.76 L148.73,259.92 L149.07,259.06 L149.43,258.18 L149.80,257.26 L150.20,256.30 L150.72,255.09 L151.26,253.84 L151.84,252.56 L152.43,251.26 L153.04,249.94 L153.65,248.61 L154.28,247.26 L154.90,245.92 L155.52,244.57 L156.13,243.24 L156.72,241.91 L157.30,240.60 L157.84,239.33 L158.37,238.06 L158.90,236.79 L159.41,235.52 L159.92,234.26 L160.43,232.99 L160.94,231.73 L161.45,230.47 L161.97,229.22 L162.50,227.97 L163.04,226.73 L163.60,225.50 L164.16,224.29 L164.72,223.07 L165.29,221.85 L165.86,220.63 L166.44,219.42 L167.03,218.21 L167.63,217.02 L168.23,215.85 L168.84,214.69 L169.45,213.56 L170.07,212.47 L170.70,211.40 L171.26,210.50 L171.82,209.61 L172.39,208.75 L172.96,207.90 L173.54,207.08 L174.12,206.26 L174.71,205.46 L175.30,204.67 L175.90,203.89 L176.49,203.12 L177.10,202.36 L177.70,201.60 L178.27,200.90 L178.83,200.19 L179.40,199.50 L179.98,198.80 L180.56,198.12 L181.14,197.45 L181.72,196.79 L182.31,196.15 L182.90,195.53 L183.50,194.93 L184.10,194.35 L184.70,193.80 L185.23,193.34 L185.77,192.90 L186.30,192.48 L186.84,192.07 L187.39,191.68 L187.93,191.30 L188.48,190.93 L189.04,190.57 L189.59,190.22 L190.16,189.87 L190.73,189.54 L191.30,189.20 L191.87,188.88 L192.44,188.57 L193.01,188.27 L193.58,187.99 L194.16,187.71 L194.74,187.44 L195.33,187.18 L195.93,186.91 L196.55,186.64 L197.18,186.37 L197.83,186.09 L198.50,185.80 L199.40,185.42 L200.37,185.02 L201.39,184.61 L202.45,184.19 L203.52,183.77 L204.61,183.35 L205.69,182.94 L206.75,182.53 L207.77,182.14 L208.75,181.77 L209.66,181.42 L210.50,181.10 L211.00,180.90 L211.47,180.72 L211.91,180.54 L212.33,180.37 L212.73,180.21 L213.13,180.05 L213.52,179.90 L213.92,179.74 L214.33,179.59 L214.76,179.43 L215.21,179.27 L215.70,179.10 L216.39,178.87 L217.10,178.65 L217.84,178.42 L218.60,178.20 L219.39,177.98 L220.19,177.75 L221.01,177.52 L221.84,177.28 L222.69,177.03 L223.55,176.76 L224.42,176.49 L225.30,176.20 L226.44,175.81 L227.61,175.38 L228.81,174.93 L230.04,174.46 L231.29,173.97 L232.56,173.48 L233.84,172.98 L235.13,172.48 L236.43,171.99 L237.72,171.51 L239.01,171.04 L240.30,170.60 L241.62,170.17 L242.94,169.74 L244.27,169.32 L245.61,168.91 L246.95,168.51 L248.30,168.11 L249.65,167.72 L251.00,167.33 L252.35,166.94 L253.70,166.56 L255.05,166.18 L256.40,165.80 L257.74,165.43 L259.08,165.08 L260.43,164.73 L261.77,164.39 L263.12,164.06 L264.46,163.73 L265.81,163.39 L267.15,163.04 L268.49,162.68 L269.83,162.31 L271.17,161.92 L272.50,161.50 L273.85,161.06 L275.20,160.60 L276.55,160.12 L277.89,159.64 L279.24,159.14 L280.58,158.63 L281.92,158.11 L283.26,157.58 L284.60,157.04 L285.93,156.50 L287.27,155.95 L288.60,155.40 L289.95,154.84 L291.30,154.26 L292.65,153.69 L293.99,153.10 L295.34,152.51 L296.68,151.91 L298.02,151.30 L299.36,150.68 L300.70,150.05 L302.04,149.41 L303.37,148.76 L304.70,148.10 L306.07,147.40 L307.45,146.68 L308.84,145.93 L310.24,145.17 L311.64,144.40 L313.03,143.62 L314.40,142.85 L315.75,142.08 L317.07,141.32 L318.36,140.59 L319.60,139.88 L320.80,139.20 L321.69,138.70 L322.55,138.22 L323.37,137.76 L324.17,137.32 L324.96,136.88 L325.73,136.45 L326.50,136.01 L327.27,135.56 L328.04,135.11 L328.84,134.63 L329.66,134.13 L330.50,133.60 L331.56,132.93 L332.64,132.24 L333.75,131.54 L334.88,130.81 L336.02,130.06 L337.17,129.30 L338.32,128.51 L339.46,127.71 L340.60,126.88 L341.72,126.04 L342.82,125.18 L343.90,124.30 L345.01,123.35 L346.12,122.38 L347.23,121.39 L348.33,120.37 L349.42,119.33 L350.50,118.27 L351.56,117.20 L352.60,116.10 L353.62,115.00 L354.61,113.88 L355.57,112.74 L356.50,111.60 L357.38,110.47 L358.22,109.32 L359.05,108.15 L359.84,106.97 L360.62,105.78 L361.38,104.57 L362.11,103.35 L362.83,102.12 L363.54,100.88 L364.24,99.63 L364.92,98.37 L365.60,97.10 L366.28,95.80 L366.94,94.47 L367.59,93.14 L368.22,91.79 L368.83,90.43 L369.43,89.06 L370.02,87.69 L370.60,86.31 L371.16,84.93 L371.72,83.55 L372.26,82.17 L372.80,80.80 L373.32,79.45 L373.82,78.09 L374.30,76.72 L374.78,75.35 L375.24,73.98 L375.69,72.61 L376.14,71.24 L376.58,69.88 L377.01,68.52 L377.44,67.17 L377.87,65.83 L378.30,64.50 L378.71,63.23 L379.13,61.92 L379.57,60.59 L380.00,59.24 L380.43,57.90 L380.85,56.58 L381.25,55.29 L381.63,54.06 L381.98,52.90 L382.30,51.83 L382.57,50.86 L382.80,50.00 L382.89,49.64 L382.97,49.30 L383.04,48.99 L383.10,48.70 L383.16,48.42 L383.21,48.16 L383.26,47.90 L383.30,47.65 L383.35,47.40 L383.39,47.14 L383.44,46.88 L383.50,46.60" stroke="#0000ff" stroke-dasharray="7,7" stroke-linecap="round" stroke-dashoffset="7.5"/>
<path d="M103.80,110.00 L103.85,111.00 L103.89,112.00 L103.92,112.99 L103.95,113.98 L103.99,114.98 L104.02,115.97 L104.06,116.97 L104.11,117.97 L104.16,118.97 L104.23,119.98 L104.31,120.99 L104.40,122.00 L104.51,123.06 L104.63,124.11 L104.76,125.16 L104.89,126.20 L105.03,127.25 L105.19,128.31 L105.36,129.38 L105.54,130.46 L105.73,131.56 L105.94,132.68 L106.16,133.82 L106.40,135.00 L106.73,136.53 L107.11,138.13 L107.52,139.78 L107.95,141.47 L108.41,143.19 L108.89,144.92 L109.37,146.66 L109.85,148.40 L110.34,150.11 L110.81,151.79 L111.27,153.42 L111.70,155.00 L112.07,156.32 L112.44,157.60 L112.82,158.85 L113.20,160.07 L113.58,161.28 L113.95,162.49 L114.31,163.69 L114.66,164.90 L115.00,166.13 L115.32,167.39 L115.62,168.67 L115.90,170.00 L116.19,171.56 L116.46,173.15 L116.72,174.78 L116.95,176.43 L117.16,178.11 L117.36,179.80 L117.54,181.50 L117.71,183.21 L117.87,184.92 L118.02,186.63 L118.16,188.32 L118.30,190.00 L118.42,191.67 L118.53,193.36 L118.61,195.06 L118.68,196.77 L118.75,198.47 L118.80,200.18 L118.85,201.87 L118.89,203.54 L118.94,205.20 L118.98,206.83 L119.04,208.43 L119.10,210.00 L119.16,211.32 L119.22,212.60 L119.28,213.85 L119.34,215.08 L119.40,216.29 L119.47,217.50 L119.53,218.71 L119.58,219.92 L119.64,221.15 L119.70,222.40 L119.75,223.68 L119.80,225.00 L119.85,226.58 L119.90,228.22 L119.95,229.90 L119.99,231.61 L120.02,233.35 L120.06,235.09 L120.10,236.83 L120.14,238.54 L120.17,240.23 L120.21,241.88 L120.25,243.47 L120.30,245.00 L120.33,246.19 L120.35,247.37 L120.36,248.53 L120.37,249.67 L120.38,250.79 L120.39,251.89 L120.42,252.97 L120.45,254.03 L120.50,255.06 L120.58,256.07 L120.67,257.05 L120.80,258.00 L120.92,258.77 L121.06,259.60 L121.21,260.46 L121.38,261.32 L121.55,262.17 L121.74,262.98 L121.93,263.73 L122.12,264.40 L122.32,264.97 L122.51,265.40 L122.71,265.69 L122.90,265.80 L123.02,265.76 L123.14,265.64 L123.25,265.44 L123.36,265.17 L123.48,264.87 L123.59,264.52 L123.71,264.16 L123.85,263.78 L123.99,263.42 L124.14,263.07 L124.31,262.76 L124.50,262.50 L124.72,262.25 L124.95,262.01 L125.19,261.77 L125.44,261.55 L125.71,261.33 L125.99,261.12 L126.28,260.92 L126.59,260.72 L126.92,260.53 L127.26,260.35 L127.62,260.17 L128.00,260.00 L128.64,259.75 L129.34,259.51 L130.10,259.30 L130.91,259.09 L131.76,258.91 L132.64,258.73 L133.54,258.58 L134.45,258.44 L135.36,258.31 L136.26,258.19 L137.14,258.09 L138.00,258.00 L138.83,257.93 L139.64,257.88 L140.45,257.85 L141.25,257.84 L142.05,257.84 L142.86,257.85 L143.68,257.87 L144.51,257.90 L145.37,257.93 L146.25,257.95 L147.16,257.98 L148.10,258.00 L149.43,258.02 L150.81,258.05 L152.26,258.07 L153.75,258.10 L155.27,258.14 L156.83,258.18 L158.40,258.23 L159.98,258.29 L161.55,258.35 L163.12,258.42 L164.68,258.51 L166.20,258.60 L167.71,258.71 L169.22,258.82 L170.73,258.95 L172.24,259.08 L173.74,259.23 L175.25,259.38 L176.76,259.53 L178.27,259.70 L179.78,259.87 L181.28,260.04 L182.79,260.22 L184.30,260.40 L185.81,260.59 L187.31,260.78 L188.81,260.98 L190.30,261.19 L191.79,261.40 L193.28,261.62 L194.78,261.84 L196.29,262.07 L197.82,262.30 L199.36,262.53 L200.92,262.76 L202.50,263.00 L204.30,263.26 L206.15,263.52 L208.02,263.77 L209.93,264.02 L211.85,264.28 L213.77,264.54 L215.70,264.82 L217.62,265.11 L219.51,265.42 L221.38,265.76 L223.21,266.11 L225.00,266.50 L226.59,266.87 L228.16,267.25 L229.70,267.64 L231.23,268.04 L232.74,268.45 L234.24,268.89 L235.72,269.34 L237.20,269.82 L238.68,270.32 L240.15,270.85 L241.62,271.41 L243.10,272.00 L244.64,272.65 L246.17,273.33 L247.69,274.04 L249.22,274.77 L250.73,275.54 L252.24,276.33 L253.75,277.14 L255.25,277.98 L256.74,278.83 L258.24,279.70 L259.72,280.59 L261.20,281.50 L262.73,282.48 L264.26,283.51 L265.77,284.59 L267.27,285.69 L268.76,286.82 L270.26,287.95 L271.75,289.09 L273.25,290.23 L274.74,291.35 L276.25,292.44 L277.77,293.49 L279.30,294.50 L280.80,295.43 L282.33,296.32 L283.87,297.18 L285.43,298.01 L286.98,298.83 L288.54,299.64 L290.09,300.45 L291.62,301.27 L293.14,302.11 L294.63,302.97 L296.08,303.87 L297.50,304.80 L298.82,305.72 L300.11,306.65 L301.39,307.59 L302.65,308.56 L303.89,309.53 L305.12,310.52 L306.32,311.53 L307.51,312.55 L308.68,313.59 L309.84,314.64 L310.98,315.71 L312.10,316.80 L313.20,317.90 L314.28,319.02 L315.35,320.15 L316.40,321.31 L317.44,322.48 L318.46,323.66 L319.46,324.86 L320.44,326.07 L321.41,327.29 L322.36,328.52 L323.29,329.76 L324.20,331.00 L325.08,332.24 L325.93,333.51 L326.76,334.80 L327.56,336.10 L328.35,337.41 L329.13,338.73 L329.90,340.05 L330.66,341.36 L331.41,342.67 L332.17,343.96 L332.93,345.24 L333.70,346.50 L334.41,347.64 L335.09,348.75 L335.75,349.83 L336.40,350.89 L337.04,351.94 L337.70,353.00 L338.36,354.07 L339.05,355.17 L339.77,356.30 L340.53,357.47 L341.34,358.70 L342.20,360.00 L343.62,362.10 L345.17,364.33 L346.82,366.67 L348.56,369.11 L350.37,371.64 L352.24,374.22 L354.14,376.85 L356.06,379.50 L357.99,382.16 L359.89,384.81 L361.77,387.43 L363.60,390.00 L365.55,392.75 L367.65,395.71 L369.86,398.81 L372.13,402.00 L374.40,405.19 L376.61,408.31 L378.73,411.31 L380.70,414.12 L382.46,416.66 L383.96,418.86 L385.16,420.67 L386.00,422.00 L386.14,422.24 L386.26,422.46 L386.37,422.65 L386.46,422.83 L386.54,422.99 L386.61,423.14 L386.67,423.28 L386.73,423.41 L386.79,423.55 L386.85,423.69 L386.92,423.84 L387.00,424.00" stroke="#0000ff"/>
<path d="M103.70,423.30 L103.72,422.89 L103.73,422.49 L103.74,422.10 L103.75,421.72 L103.76,421.33 L103.77,420.95 L103.79,420.55 L103.80,420.14 L103.82,419.71 L103.84,419.27 L103.87,418.80 L103.90,418.30 L103.96,417.43 L104.02,416.49 L104.09,415.48 L104.17,414.43 L104.25,413.33 L104.35,412.20 L104.45,411.04 L104.56,409.88 L104.68,408.71 L104.81,407.55 L104.95,406.41 L105.10,405.30 L105.27,404.18 L105.45,403.06 L105.64,401.96 L105.84,400.85 L106.05,399.74 L106.28,398.63 L106.51,397.51 L106.75,396.37 L107.00,395.22 L107.26,394.04 L107.52,392.84 L107.80,391.60 L108.16,390.03 L108.54,388.42 L108.93,386.76 L109.35,385.06 L109.78,383.34 L110.22,381.60 L110.67,379.84 L111.12,378.08 L111.57,376.32 L112.02,374.56 L112.47,372.82 L112.90,371.10 L113.33,369.37 L113.77,367.60 L114.21,365.81 L114.65,364.00 L115.09,362.20 L115.53,360.40 L115.97,358.64 L116.40,356.90 L116.83,355.22 L117.26,353.60 L117.68,352.06 L118.10,350.60 L118.39,349.62 L118.67,348.71 L118.95,347.85 L119.23,347.02 L119.50,346.22 L119.78,345.44 L120.05,344.65 L120.33,343.85 L120.61,343.03 L120.90,342.17 L121.19,341.27 L121.50,340.30 L121.94,338.85 L122.39,337.31 L122.86,335.68 L123.33,333.98 L123.82,332.24 L124.31,330.47 L124.81,328.70 L125.31,326.93 L125.81,325.18 L126.31,323.49 L126.81,321.85 L127.30,320.30 L127.71,319.06 L128.12,317.86 L128.54,316.69 L128.95,315.55 L129.37,314.43 L129.78,313.31 L130.20,312.21 L130.61,311.10 L131.03,309.98 L131.45,308.85 L131.88,307.69 L132.30,306.50 L132.76,305.17 L133.23,303.84 L133.69,302.50 L134.15,301.15 L134.61,299.79 L135.08,298.42 L135.55,297.03 L136.03,295.62 L136.51,294.20 L137.00,292.75 L137.49,291.29 L138.00,289.80 L138.61,287.99 L139.25,286.09 L139.91,284.13 L140.59,282.12 L141.27,280.08 L141.95,278.04 L142.64,276.02 L143.31,274.04 L143.97,272.11 L144.61,270.27 L145.22,268.52 L145.80,266.90 L146.18,265.85 L146.54,264.87 L146.89,263.93 L147.22,263.03 L147.55,262.16 L147.87,261.31 L148.20,260.46 L148.53,259.62 L148.87,258.76 L149.23,257.88 L149.60,256.96 L150.00,256.00 L150.52,254.79 L151.06,253.54 L151.64,252.26 L152.23,250.96 L152.84,249.64 L153.45,248.31 L154.08,246.96 L154.70,245.62 L155.32,244.27 L155.93,242.94 L156.52,241.61 L157.10,240.30 L157.64,239.03 L158.17,237.76 L158.70,236.49 L159.21,235.22 L159.72,233.96 L160.23,232.69 L160.74,231.43 L161.25,230.17 L161.77,228.92 L162.30,227.67 L162.84,226.43 L163.40,225.20 L163.96,223.99 L164.52,222.77 L165.09,221.55 L165.66,220.33 L166.24,219.12 L166.83,217.91 L167.43,216.72 L168.03,215.55 L168.64,214.39 L169.25,213.26 L169.87,212.17 L170.50,211.10 L171.06,210.20 L171.62,209.31 L172.19,208.45 L172.76,207.60 L173.34,206.78 L173.92,205.96 L174.51,205.16 L175.10,204.37 L175.70,203.59 L176.29,202.82 L176.90,202.06 L177.50,201.30 L178.07,200.60 L178.63,199.89 L179.20,199.20 L179.78,198.50 L180.36,197.82 L180.94,197.15 L181.52,196.49 L182.11,195.85 L182.70,195.23 L183.30,194.63 L183.90,194.05 L184.50,193.50 L185.03,193.04 L185.57,192.60 L186.10,192.18 L186.64,191.77 L187.19,191.38 L187.73,191.00 L188.28,190.63 L188.84,190.27 L189.39,189.92 L189.96,189.57 L190.53,189.24 L191.10,188.90 L191.67,188.58 L192.24,188.27 L192.81,187.97 L193.38,187.69 L193.96,187.41 L194.54,187.14 L195.13,186.88 L195.73,186.61 L196.35,186.34 L196.98,186.07 L197.63,185.79 L198.30,185.50 L199.20,185.12 L200.17,184.72 L201.19,184.31 L202.25,183.89 L203.32,183.47 L204.41,183.05 L205.49,182.64 L206.55,182.23 L207.57,181.84 L208.55,181.47 L209.46,181.12 L210.30,180.80 L210.80,180.60 L211.27,180.42 L211.71,180.24 L212.13,180.07 L212.53,179.91 L212.93,179.75 L213.32,179.60 L213.72,179.44 L214.13,179.29 L214.56,179.13 L215.01,178.97 L215.50,178.80 L216.19,178.57 L216.90,178.35 L217.64,178.12 L218.40,177.90 L219.19,177.68 L219.99,177.45 L220.81,177.22 L221.64,176.98 L222.49,176.73 L223.35,176.46 L224.22,176.19 L225.10,175.90 L226.24,175.51 L227.41,175.08 L228.61,174.63 L229.84,174.16 L231.09,173.67 L232.36,173.18 L233.64,172.68 L234.93,172.18 L236.23,171.69 L237.52,171.21 L238.81,170.74 L240.10,170.30 L241.42,169.87 L242.74,169.44 L244.07,169.02 L245.41,168.61 L246.75,168.21 L248.10,167.81 L249.45,167.42 L250.80,167.03 L252.15,166.64 L253.50,166.26 L254.85,165.88 L256.20,165.50 L257.54,165.13 L258.88,164.78 L260.23,164.43 L261.57,164.09 L262.92,163.76 L264.26,163.43 L265.61,163.09 L266.95,162.74 L268.29,162.38 L269.63,162.01 L270.97,161.62 L272.30,161.20 L273.65,160.76 L275.00,160.30 L276.35,159.82 L277.69,159.34 L279.04,158.84 L280.38,158.33 L281.72,157.81 L283.06,157.28 L284.40,156.74 L285.73,156.20 L287.07,155.65 L288.40,155.10 L289.75,154.54 L291.10,153.96 L292.45,153.39 L293.79,152.80 L295.14,152.21 L296.48,151.61 L297.82,151.00 L299.16,150.38 L300.50,149.75 L301.84,149.11 L303.17,148.46 L304.50,147.80 L305.87,147.10 L307.25,146.38 L308.64,145.63 L310.04,144.87 L311.44,144.10 L312.83,143.32 L314.20,142.55 L315.55,141.78 L316.87,141.02 L318.16,140.29 L319.40,139.58 L320.60,138.90 L321.49,138.40 L322.35,137.92 L323.17,137.46 L323.97,137.02 L324.76,136.58 L325.53,136.15 L326.30,135.71 L327.07,135.26 L327.84,134.81 L328.64,134.33 L329.46,133.83 L330.30,133.30 L331.36,132.63 L332.44,131.94 L333.55,131.24 L334.68,130.51 L335.82,129.76 L336.97,129.00 L338.12,128.21 L339.26,127.41 L340.40,126.58 L341.52,125.74 L342.62,124.88 L343.70,124.00 L344.81,123.05 L345.92,122.08 L347.03,121.09 L348.13,120.07 L349.22,119.03 L350.30,117.97 L351.36,116.90 L352.40,115.80 L353.42,114.70 L354.41,113.58 L355.37,112.44 L356.30,111.30 L357.18,110.17 L358.02,109.02 L358.85,107.85 L359.64,106.67 L360.42,105.48 L361.18,104.27 L361.91,103.05 L362.63,101.82 L363.34,100.58 L364.04,99.33 L364.72,98.07 L365.40,96.80 L366.08,95.50 L366.74,94.17 L367.39,92.84 L368.02,91.49 L368.63,90.13 L369.23,88.76 L369.82,87.39 L370.40,86.01 L370.96,84.63 L371.52,83.25 L372.06,81.87 L372.60,80.50 L373.12,79.15 L373.62,77.79 L374.10,76.42 L374.58,75.05 L375.04,73.68 L375.49,72.31 L375.94,70.94 L376.38,69.58 L376.81,68.22 L377.24,66.87 L377.67,65.53 L378.10,64.20 L378.51,62.93 L378.93,61.62 L379.37,60.29 L379.80,58.94 L380.23,57.60 L380.65,56.28 L381.05,54.99 L381.43,53.76 L381.78,52.60 L382.10,51.53 L382.37,50.56 L382.60,49.70 L382.69,49.34 L382.77,49.00 L382.84,48.69 L382.90,48.40 L382.96,48.12 L383.01,47.86 L383.06,47.60 L383.10,47.35 L383.15,47.10 L383.19,46.84 L383.24,46.58 L383.30,46.30" stroke="#ff00ff" stroke-dasharray="7,7" stroke-linecap="round" stroke-dashoffset="2.5"/>
<path d="M104.10,68.00 L104.11,69.86 L104.13,71.77 L104.13,73.70 L104.14,75.65 L104.15,77.60 L104.16,79.54 L104.17,81.44 L104.19,83.30 L104.20,85.10 L104.23,86.83 L104.26,88.47 L104.30,90.00 L104.33,90.96 L104.36,91.85 L104.39,92.69 L104.42,93.50 L104.46,94.27 L104.50,95.03 L104.54,95.79 L104.58,96.56 L104.63,97.35 L104.68,98.18 L104.74,99.06 L104.80,100.00 L104.90,101.43 L105.00,102.94 L105.12,104.52 L105.24,106.16 L105.37,107.85 L105.51,109.58 L105.66,111.32 L105.81,113.08 L105.97,114.84 L106.14,116.59 L106.32,118.31 L106.50,120.00 L106.69,121.68 L106.87,123.37 L107.06,125.08 L107.25,126.79 L107.45,128.50 L107.66,130.20 L107.88,131.90 L108.12,133.57 L108.38,135.23 L108.66,136.85 L108.97,138.45 L109.30,140.00 L109.63,141.34 L109.98,142.64 L110.36,143.92 L110.76,145.18 L111.17,146.42 L111.60,147.65 L112.03,148.87 L112.46,150.09 L112.89,151.30 L113.31,152.52 L113.71,153.76 L114.10,155.00 L114.48,156.24 L114.86,157.47 L115.24,158.69 L115.63,159.90 L116.01,161.12 L116.38,162.34 L116.74,163.57 L117.09,164.82 L117.42,166.08 L117.74,167.36 L118.03,168.66 L118.30,170.00 L118.57,171.56 L118.82,173.15 L119.04,174.78 L119.23,176.43 L119.40,178.11 L119.56,179.80 L119.70,181.50 L119.83,183.21 L119.95,184.92 L120.07,186.63 L120.18,188.32 L120.30,190.00 L120.41,191.65 L120.50,193.29 L120.58,194.92 L120.65,196.54 L120.70,198.16 L120.76,199.79 L120.81,201.43 L120.86,203.08 L120.91,204.76 L120.96,206.47 L121.03,208.22 L121.10,210.00 L121.19,212.19 L121.29,214.48 L121.39,216.83 L121.50,219.24 L121.60,221.69 L121.71,224.14 L121.82,226.59 L121.93,229.01 L122.05,231.38 L122.16,233.68 L122.28,235.90 L122.40,238.00 L122.49,239.59 L122.59,241.16 L122.69,242.72 L122.79,244.25 L122.90,245.75 L123.00,247.22 L123.10,248.65 L123.20,250.03 L123.31,251.36 L123.41,252.64 L123.50,253.85 L123.60,255.00 L123.66,255.72 L123.71,256.44 L123.76,257.15 L123.80,257.85 L123.85,258.52 L123.90,259.17 L123.95,259.78 L124.00,260.35 L124.06,260.88 L124.13,261.35 L124.21,261.76 L124.30,262.10 L124.34,262.21 L124.37,262.33 L124.40,262.43 L124.44,262.53 L124.47,262.62 L124.51,262.71 L124.55,262.78 L124.59,262.85 L124.64,262.91 L124.69,262.95 L124.74,262.98 L124.80,263.00 L124.90,262.99 L125.01,262.94 L125.13,262.86 L125.27,262.74 L125.40,262.60 L125.55,262.45 L125.70,262.28 L125.86,262.11 L126.02,261.94 L126.18,261.78 L126.34,261.63 L126.50,261.50 L126.68,261.37 L126.85,261.25 L127.02,261.12 L127.19,261.00 L127.37,260.88 L127.55,260.76 L127.74,260.64 L127.94,260.53 L128.16,260.41 L128.39,260.31 L128.63,260.20 L128.90,260.10 L129.44,259.92 L130.06,259.75 L130.73,259.59 L131.46,259.44 L132.23,259.30 L133.03,259.17 L133.86,259.05 L134.70,258.93 L135.54,258.83 L136.38,258.74 L137.20,258.67 L138.00,258.60 L138.81,258.55 L139.62,258.51 L140.42,258.50 L141.21,258.50 L142.02,258.51 L142.83,258.52 L143.65,258.55 L144.50,258.58 L145.36,258.61 L146.24,258.65 L147.15,258.68 L148.10,258.70 L149.43,258.73 L150.81,258.76 L152.26,258.78 L153.75,258.82 L155.27,258.85 L156.83,258.89 L158.40,258.94 L159.98,258.99 L161.55,259.05 L163.12,259.12 L164.68,259.21 L166.20,259.30 L167.71,259.40 L169.22,259.52 L170.73,259.64 L172.24,259.76 L173.75,259.90 L175.25,260.05 L176.76,260.20 L178.27,260.36 L179.78,260.53 L181.29,260.71 L182.79,260.90 L184.30,261.10 L185.83,261.31 L187.38,261.53 L188.94,261.77 L190.51,262.01 L192.08,262.27 L193.65,262.53 L195.19,262.80 L196.72,263.07 L198.22,263.35 L199.69,263.63 L201.12,263.92 L202.50,264.20 L203.59,264.44 L204.66,264.68 L205.70,264.93 L206.72,265.19 L207.72,265.45 L208.71,265.71 L209.69,265.97 L210.65,266.23 L211.61,266.48 L212.57,266.73 L213.53,266.97 L214.50,267.20 L215.39,267.40 L216.26,267.59 L217.11,267.76 L217.95,267.93 L218.79,268.10 L219.63,268.26 L220.47,268.43 L221.33,268.61 L222.20,268.80 L223.10,269.01 L224.03,269.24 L225.00,269.50 L226.35,269.88 L227.75,270.28 L229.20,270.71 L230.70,271.17 L232.23,271.65 L233.78,272.15 L235.35,272.67 L236.92,273.21 L238.49,273.76 L240.05,274.33 L241.59,274.91 L243.10,275.50 L244.63,276.12 L246.15,276.75 L247.67,277.41 L249.18,278.08 L250.70,278.77 L252.21,279.47 L253.72,280.19 L255.22,280.92 L256.72,281.67 L258.22,282.44 L259.71,283.21 L261.20,284.00 L262.73,284.84 L264.24,285.70 L265.75,286.60 L267.26,287.51 L268.76,288.45 L270.26,289.39 L271.76,290.33 L273.26,291.27 L274.76,292.21 L276.27,293.13 L277.78,294.03 L279.30,294.90 L280.81,295.73 L282.35,296.54 L283.89,297.33 L285.45,298.10 L287.00,298.86 L288.56,299.63 L290.10,300.39 L291.63,301.17 L293.14,301.96 L294.63,302.78 L296.08,303.62 L297.50,304.50 L298.81,305.35 L300.11,306.22 L301.38,307.10 L302.64,308.00 L303.88,308.91 L305.11,309.83 L306.31,310.77 L307.50,311.72 L308.68,312.69 L309.83,313.68 L310.97,314.68 L312.10,315.70 L313.19,316.72 L314.26,317.75 L315.31,318.80 L316.35,319.86 L317.36,320.93 L318.37,322.02 L319.36,323.13 L320.34,324.26 L321.31,325.41 L322.28,326.58 L323.24,327.78 L324.20,329.00 L325.25,330.39 L326.30,331.84 L327.34,333.34 L328.38,334.88 L329.40,336.44 L330.42,338.01 L331.42,339.59 L332.40,341.16 L333.38,342.70 L334.34,344.22 L335.28,345.69 L336.20,347.10 L336.95,348.23 L337.65,349.32 L338.33,350.36 L338.99,351.37 L339.64,352.37 L340.28,353.36 L340.94,354.37 L341.61,355.40 L342.32,356.46 L343.06,357.58 L343.85,358.75 L344.70,360.00 L346.13,362.07 L347.67,364.28 L349.32,366.61 L351.05,369.05 L352.85,371.58 L354.71,374.17 L356.60,376.80 L358.51,379.47 L360.42,382.14 L362.31,384.80 L364.18,387.42 L366.00,390.00 L367.94,392.75 L370.06,395.71 L372.28,398.81 L374.56,401.99 L376.85,405.18 L379.08,408.30 L381.21,411.30 L383.17,414.11 L384.92,416.64 L386.39,418.85 L387.54,420.66 L388.30,422.00 L388.42,422.24 L388.52,422.45 L388.59,422.65 L388.66,422.82 L388.71,422.98 L388.76,423.13 L388.79,423.27 L388.83,423.41 L388.86,423.55 L388.90,423.69 L388.95,423.84 L389.00,424.00" stroke="#008000"/>
<path d="M104.10,423.90 L104.12,423.49 L104.13,423.09 L104.14,422.70 L104.15,422.32 L104.16,421.93 L104.17,421.55 L104.19,421.15 L104.20,420.74 L104.22,420.31 L104.24,419.87 L104.27,419.40 L104.30,418.90 L104.36,418.03 L104.42,417.09 L104.49,416.08 L104.57,415.03 L104.65,413.93 L104.75,412.80 L104.85,411.64 L104.96,410.48 L105.08,409.31 L105.21,408.15 L105.35,407.01 L105.50,405.90 L105.67,404.78 L105.85,403.66 L106.04,402.56 L106.24,401.45 L106.45,400.34 L106.68,399.23 L106.91,398.11 L107.15,396.97 L107.40,395.82 L107.66,394.64 L107.92,393.44 L108.20,392.20 L108.56,390.63 L108.94,389.02 L109.33,387.36 L109.75,385.66 L110.18,383.94 L110.62,382.20 L111.07,380.44 L111.52,378.68 L111.97,376.92 L112.42,375.16 L112.87,373.42 L113.30,371.70 L113.73,369.97 L114.17,368.20 L114.61,366.41 L115.05,364.60 L115.49,362.80 L115.93,361.00 L116.37,359.24 L116.80,357.50 L117.23,355.82 L117.66,354.20 L118.08,352.66 L118.50,351.20 L118.79,350.22 L119.07,349.31 L119.35,348.45 L119.63,347.62 L119.90,346.82 L120.18,346.04 L120.45,345.25 L120.73,344.45 L121.01,343.63 L121.30,342.77 L121.59,341.87 L121.90,340.90 L122.34,339.45 L122.79,337.91 L123.26,336.28 L123.73,334.58 L124.22,332.84 L124.71,331.07 L125.21,329.30 L125.71,327.53 L126.21,325.78 L126.71,324.09 L127.21,322.45 L127.70,320.90 L128.11,319.66 L128.52,318.46 L128.94,317.29 L129.35,316.15 L129.77,315.03 L130.18,313.91 L130.60,312.81 L131.01,311.70 L131.43,310.58 L131.85,309.45 L132.28,308.29 L132.70,307.10 L133.16,305.77 L133.63,304.44 L134.09,303.10 L134.55,301.75 L135.01,300.39 L135.48,299.02 L135.95,297.63 L136.43,296.22 L136.91,294.80 L137.40,293.35 L137.89,291.89 L138.40,290.40 L139.01,288.59 L139.65,286.69 L140.31,284.73 L140.99,282.72 L141.67,280.68 L142.35,278.64 L143.04,276.62 L143.71,274.64 L144.37,272.71 L145.01,270.87 L145.62,269.12 L146.20,267.50 L146.58,266.45 L146.94,265.47 L147.29,264.53 L147.62,263.63 L147.95,262.76 L148.27,261.91 L148.60,261.06 L148.93,260.22 L149.27,259.36 L149.63,258.48 L150.00,257.56 L150.40,256.60 L150.92,255.39 L151.46,254.14 L152.04,252.86 L152.63,251.56 L153.24,250.24 L153.85,248.91 L154.48,247.56 L155.10,246.22 L155.72,244.87 L156.33,243.54 L156.92,242.21 L157.50,240.90 L158.04,239.63 L158.57,238.36 L159.10,237.09 L159.61,235.82 L160.12,234.56 L160.63,233.29 L161.14,232.03 L161.65,230.77 L162.17,229.52 L162.70,228.27 L163.24,227.03 L163.80,225.80 L164.36,224.59 L164.92,223.37 L165.49,222.15 L166.06,220.93 L166.64,219.72 L167.23,218.51 L167.83,217.32 L168.43,216.15 L169.04,214.99 L169.65,213.86 L170.27,212.77 L170.90,211.70 L171.46,210.80 L172.02,209.91 L172.59,209.05 L173.16,208.20 L173.74,207.38 L174.32,206.56 L174.91,205.76 L175.50,204.97 L176.10,204.19 L176.69,203.42 L177.30,202.66 L177.90,201.90 L178.47,201.20 L179.03,200.49 L179.60,199.80 L180.18,199.10 L180.76,198.42 L181.34,197.75 L181.92,197.09 L182.51,196.45 L183.10,195.83 L183.70,195.23 L184.30,194.65 L184.90,194.10 L185.43,193.64 L185.97,193.20 L186.50,192.78 L187.04,192.37 L187.59,191.98 L188.13,191.60 L188.68,191.23 L189.24,190.87 L189.79,190.52 L190.36,190.17 L190.93,189.84 L191.50,189.50 L192.07,189.18 L192.64,188.87 L193.21,188.57 L193.78,188.29 L194.36,188.01 L194.94,187.74 L195.53,187.48 L196.13,187.21 L196.75,186.94 L197.38,186.67 L198.03,186.39 L198.70,186.10 L199.60,185.72 L200.57,185.32 L201.59,184.91 L202.65,184.49 L203.72,184.07 L204.81,183.65 L205.89,183.24 L206.95,182.83 L207.97,182.44 L208.95,182.07 L209.86,181.72 L210.70,181.40 L211.20,181.20 L211.67,181.02 L212.11,180.84 L212.53,180.67 L212.93,180.51 L213.33,180.35 L213.72,180.20 L214.12,180.04 L214.53,179.89 L214.96,179.73 L215.41,179.57 L215.90,179.40 L216.59,179.17 L217.30,178.95 L218.04,178.72 L218.80,178.50 L219.59,178.28 L220.39,178.05 L221.21,177.82 L222.04,177.58 L222.89,177.33 L223.75,177.06 L224.62,176.79 L225.50,176.50 L226.64,176.11 L227.81,175.68 L229.01,175.23 L230.24,174.76 L231.49,174.27 L232.76,173.78 L234.04,173.28 L235.33,172.78 L236.63,172.29 L237.92,171.81 L239.21,171.34 L240.50,170.90 L241.82,170.47 L243.14,170.04 L244.47,169.62 L245.81,169.21 L247.15,168.81 L248.50,168.41 L249.85,168.02 L251.20,167.63 L252.55,167.24 L253.90,166.86 L255.25,166.48 L256.60,166.10 L257.94,165.73 L259.28,165.38 L260.63,165.03 L261.97,164.69 L263.32,164.36 L264.66,164.03 L266.01,163.69 L267.35,163.34 L268.69,162.98 L270.03,162.61 L271.37,162.22 L272.70,161.80 L274.05,161.36 L275.40,160.90 L276.75,160.42 L278.09,159.94 L279.44,159.44 L280.78,158.93 L282.12,158.41 L283.46,157.88 L284.80,157.34 L286.13,156.80 L287.47,156.25 L288.80,155.70 L290.15,155.14 L291.50,154.56 L292.85,153.99 L294.19,153.40 L295.54,152.81 L296.88,152.21 L298.22,151.60 L299.56,150.98 L300.90,150.35 L302.24,149.71 L303.57,149.06 L304.90,148.40 L306.27,147.70 L307.65,146.98 L309.04,146.23 L310.44,145.47 L311.84,144.70 L313.23,143.92 L314.60,143.15 L315.95,142.38 L317.27,141.62 L318.56,140.89 L319.80,140.18 L321.00,139.50 L321.89,139.00 L322.75,138.52 L323.57,138.06 L324.37,137.62 L325.16,137.18 L325.93,136.75 L326.70,136.31 L327.47,135.86 L328.24,135.41 L329.04,134.93 L329.86,134.43 L330.70,133.90 L331.76,133.23 L332.84,132.54 L333.95,131.84 L335.08,131.11 L336.22,130.36 L337.37,129.60 L338.52,128.81 L339.66,128.01 L340.80,127.18 L341.92,126.34 L343.02,125.48 L344.10,124.60 L345.21,123.65 L346.32,122.68 L347.43,121.69 L348.53,120.67 L349.62,119.63 L350.70,118.57 L351.76,117.50 L352.80,116.40 L353.82,115.30 L354.81,114.18 L355.77,113.04 L356.70,111.90 L357.58,110.77 L358.42,109.62 L359.25,108.45 L360.04,107.27 L360.82,106.08 L361.58,104.87 L362.31,103.65 L363.03,102.42 L363.74,101.18 L364.44,99.93 L365.12,98.67 L365.80,97.40 L366.48,96.10 L367.14,94.77 L367.79,93.44 L368.42,92.09 L369.03,90.73 L369.63,89.36 L370.22,87.99 L370.80,86.61 L371.36,85.23 L371.92,83.85 L372.46,82.47 L373.00,81.10 L373.52,79.75 L374.02,78.39 L374.50,77.02 L374.98,75.65 L375.44,74.28 L375.89,72.91 L376.34,71.54 L376.78,70.18 L377.21,68.82 L377.64,67.47 L378.07,66.13 L378.50,64.80 L378.91,63.53 L379.33,62.22 L379.77,60.89 L380.20,59.54 L380.63,58.20 L381.05,56.88 L381.45,55.59 L381.83,54.36 L382.18,53.20 L382.50,52.13 L382.77,51.16 L383.00,50.30 L383.09,49.94 L383.17,49.60 L383.24,49.29 L383.30,49.00 L383.36,48.72 L383.41,48.46 L383.46,48.20 L383.50,47.95 L383.55,47.70 L383.59,47.44 L383.64,47.18 L383.70,46.90" stroke="#008000" stroke-dasharray="7,7" stroke-linecap="round" stroke-dashoffset="0"/>
</g>
<path d="M378.8,99.80H409.2" stroke="#000" stroke-width="2.6" stroke-linecap="round"/>
<text transform="translate(413.00,105.10) scale(0.875,1)" text-anchor="start" font-size="15.0" fill="#111" stroke="#111" stroke-width="0.22">1<tspan dy="-6.5" font-size="10.5">st</tspan><tspan dy="6.5"> discharge</tspan></text>
<path d="M378.8,121.55H388.8M401.2,121.55H409.2" stroke="#000" stroke-width="2.6" stroke-linecap="round"/>
<text transform="translate(413.00,126.85) scale(0.875,1)" text-anchor="start" font-size="15.0" fill="#111" stroke="#111" stroke-width="0.22">1<tspan dy="-6.5" font-size="10.5">st</tspan><tspan dy="6.5"> charge</tspan></text>
<path d="M378.8,143.30H409.2" stroke="#ff0000" stroke-width="2.6" stroke-linecap="round"/>
<text transform="translate(413.00,148.60) scale(0.875,1)" text-anchor="start" font-size="15.0" fill="#111" stroke="#111" stroke-width="0.22">2<tspan dy="-6.5" font-size="10.5">nd</tspan><tspan dy="6.5"> discharge</tspan></text>
<path d="M378.8,165.05H388.8M401.2,165.05H409.2" stroke="#ff0000" stroke-width="2.6" stroke-linecap="round"/>
<text transform="translate(413.00,170.35) scale(0.875,1)" text-anchor="start" font-size="15.0" fill="#111" stroke="#111" stroke-width="0.22">2<tspan dy="-6.5" font-size="10.5">nd</tspan><tspan dy="6.5"> charge</tspan></text>
<path d="M378.8,186.80H409.2" stroke="#0000ff" stroke-width="2.6" stroke-linecap="round"/>
<text transform="translate(413.00,192.10) scale(0.875,1)" text-anchor="start" font-size="15.0" fill="#111" stroke="#111" stroke-width="0.22">3<tspan dy="-6.5" font-size="10.5">rd</tspan><tspan dy="6.5"> discharge</tspan></text>
<path d="M378.8,208.55H388.8M401.2,208.55H409.2" stroke="#0000ff" stroke-width="2.6" stroke-linecap="round"/>
<text transform="translate(413.00,213.85) scale(0.875,1)" text-anchor="start" font-size="15.0" fill="#111" stroke="#111" stroke-width="0.22">3<tspan dy="-6.5" font-size="10.5">rd</tspan><tspan dy="6.5"> charge</tspan></text>
<path d="M378.8,230.30H409.2" stroke="#ff00ff" stroke-width="2.6" stroke-linecap="round"/>
<text transform="translate(413.00,235.60) scale(0.875,1)" text-anchor="start" font-size="15.0" fill="#111" stroke="#111" stroke-width="0.22">4<tspan dy="-6.5" font-size="10.5">th</tspan><tspan dy="6.5"> discharge</tspan></text>
<path d="M378.8,252.05H388.8M401.2,252.05H409.2" stroke="#ff00ff" stroke-width="2.6" stroke-linecap="round"/>
<text transform="translate(413.00,257.35) scale(0.875,1)" text-anchor="start" font-size="15.0" fill="#111" stroke="#111" stroke-width="0.22">4<tspan dy="-6.5" font-size="10.5">th</tspan><tspan dy="6.5"> charge</tspan></text>
<path d="M378.8,273.80H409.2" stroke="#008000" stroke-width="2.6" stroke-linecap="round"/>
<text transform="translate(413.00,279.10) scale(0.875,1)" text-anchor="start" font-size="15.0" fill="#111" stroke="#111" stroke-width="0.22">5<tspan dy="-6.5" font-size="10.5">th</tspan><tspan dy="6.5"> discharge</tspan></text>
<path d="M378.8,295.55H388.8M401.2,295.55H409.2" stroke="#008000" stroke-width="2.6" stroke-linecap="round"/>
<text transform="translate(413.00,300.85) scale(0.875,1)" text-anchor="start" font-size="15.0" fill="#111" stroke="#111" stroke-width="0.22">5<tspan dy="-6.5" font-size="10.5">th</tspan><tspan dy="6.5"> charge</tspan></text>
<path d="M660.42,56.3V422.3M709.05,56.3V422.3M757.67,56.3V422.3M806.30,56.3V422.3M854.92,56.3V422.3M903.55,56.3V422.3M952.17,56.3V422.3" stroke="#c4c4c4" stroke-width="1.2"/>
<path d="M606.3,422.30H611.8M1000.8,422.30H1006.3M608.8,407.05H611.8M1000.8,407.05H1003.8M608.8,391.80H611.8M1000.8,391.80H1003.8M608.8,376.55H611.8M1000.8,376.55H1003.8M606.3,361.30H611.8M1000.8,361.30H1006.3M608.8,346.05H611.8M1000.8,346.05H1003.8M608.8,330.80H611.8M1000.8,330.80H1003.8M608.8,315.55H611.8M1000.8,315.55H1003.8M606.3,300.30H611.8M1000.8,300.30H1006.3M608.8,285.05H611.8M1000.8,285.05H1003.8M608.8,269.80H611.8M1000.8,269.80H1003.8M608.8,254.55H611.8M1000.8,254.55H1003.8M606.3,239.30H611.8M1000.8,239.30H1006.3M608.8,224.05H611.8M1000.8,224.05H1003.8M608.8,208.80H611.8M1000.8,208.80H1003.8M608.8,193.55H611.8M1000.8,193.55H1003.8M606.3,178.30H611.8M1000.8,178.30H1006.3M608.8,163.05H611.8M1000.8,163.05H1003.8M608.8,147.80H611.8M1000.8,147.80H1003.8M608.8,132.55H611.8M1000.8,132.55H1003.8M606.3,117.30H611.8M1000.8,117.30H1006.3M608.8,102.05H611.8M1000.8,102.05H1003.8M608.8,86.80H611.8M1000.8,86.80H1003.8M608.8,71.55H611.8M1000.8,71.55H1003.8M606.3,56.30H611.8M1000.8,56.30H1006.3M611.80,422.3V429.1M616.66,422.3V425.9M621.52,422.3V425.9M626.39,422.3V425.9M631.25,422.3V425.9M636.11,422.3V425.9M640.97,422.3V425.9M645.84,422.3V425.9M650.70,422.3V425.9M655.56,422.3V425.9M660.42,422.3V429.1M665.29,422.3V425.9M670.15,422.3V425.9M675.01,422.3V425.9M679.88,422.3V425.9M684.74,422.3V425.9M689.60,422.3V425.9M694.46,422.3V425.9M699.32,422.3V425.9M704.19,422.3V425.9M709.05,422.3V429.1M713.91,422.3V425.9M718.77,422.3V425.9M723.64,422.3V425.9M728.50,422.3V425.9M733.36,422.3V425.9M738.22,422.3V425.9M743.09,422.3V425.9M747.95,422.3V425.9M752.81,422.3V425.9M757.67,422.3V429.1M762.54,422.3V425.9M767.40,422.3V425.9M772.26,422.3V425.9M777.12,422.3V425.9M781.99,422.3V425.9M786.85,422.3V425.9M791.71,422.3V425.9M796.57,422.3V425.9M801.44,422.3V425.9M806.30,422.3V429.1M811.16,422.3V425.9M816.02,422.3V425.9M820.89,422.3V425.9M825.75,422.3V425.9M830.61,422.3V425.9M835.47,422.3V425.9M840.34,422.3V425.9M845.20,422.3V425.9M850.06,422.3V425.9M854.92,422.3V429.1M859.79,422.3V425.9M864.65,422.3V425.9M869.51,422.3V425.9M874.38,422.3V425.9M879.24,422.3V425.9M884.10,422.3V425.9M888.96,422.3V425.9M893.82,422.3V425.9M898.69,422.3V425.9M903.55,422.3V429.1M908.41,422.3V425.9M913.27,422.3V425.9M918.14,422.3V425.9M923.00,422.3V425.9M927.86,422.3V425.9M932.72,422.3V425.9M937.59,422.3V425.9M942.45,422.3V425.9M947.31,422.3V425.9M952.17,422.3V429.1M957.04,422.3V425.9M961.90,422.3V425.9M966.76,422.3V425.9M971.62,422.3V425.9M976.49,422.3V425.9M981.35,422.3V425.9M986.21,422.3V425.9M991.07,422.3V425.9M995.94,422.3V425.9M1000.80,422.3V429.1" stroke="#3a3a3a" stroke-width="1.6" fill="none"/>
<text transform="translate(601.00,427.10) scale(0.78,1)" text-anchor="end" font-size="19.8" fill="#111" stroke="#111" stroke-width="0.3">0</text>
<text transform="translate(1010.60,427.10) scale(0.78,1)" text-anchor="start" font-size="19.8" fill="#111" stroke="#111" stroke-width="0.3">0</text>
<text transform="translate(601.00,366.10) scale(0.78,1)" text-anchor="end" font-size="19.8" fill="#111" stroke="#111" stroke-width="0.3">200</text>
<text transform="translate(1010.60,366.10) scale(0.78,1)" text-anchor="start" font-size="19.8" fill="#111" stroke="#111" stroke-width="0.3">200</text>
<text transform="translate(601.00,305.10) scale(0.78,1)" text-anchor="end" font-size="19.8" fill="#111" stroke="#111" stroke-width="0.3">400</text>
<text transform="translate(1010.60,305.10) scale(0.78,1)" text-anchor="start" font-size="19.8" fill="#111" stroke="#111" stroke-width="0.3">400</text>
<text transform="translate(601.00,244.10) scale(0.78,1)" text-anchor="end" font-size="19.8" fill="#111" stroke="#111" stroke-width="0.3">600</text>
<text transform="translate(1010.60,244.10) scale(0.78,1)" text-anchor="start" font-size="19.8" fill="#111" stroke="#111" stroke-width="0.3">600</text>
<text transform="translate(601.00,183.10) scale(0.78,1)" text-anchor="end" font-size="19.8" fill="#111" stroke="#111" stroke-width="0.3">800</text>
<text transform="translate(1010.60,183.10) scale(0.78,1)" text-anchor="start" font-size="19.8" fill="#111" stroke="#111" stroke-width="0.3">800</text>
<text transform="translate(601.00,122.10) scale(0.78,1)" text-anchor="end" font-size="19.8" fill="#111" stroke="#111" stroke-width="0.3">1000</text>
<text transform="translate(1010.60,122.10) scale(0.78,1)" text-anchor="start" font-size="19.8" fill="#111" stroke="#111" stroke-width="0.3">1000</text>
<text transform="translate(601.00,61.10) scale(0.78,1)" text-anchor="end" font-size="19.8" fill="#111" stroke="#111" stroke-width="0.3">1200</text>
<text transform="translate(1010.60,61.10) scale(0.78,1)" text-anchor="start" font-size="19.8" fill="#111" stroke="#111" stroke-width="0.3">1200</text>
<text transform="translate(611.80,449.40) scale(0.78,1)" text-anchor="middle" font-size="19.8" fill="#111" stroke="#111" stroke-width="0.3">0</text>
<text transform="translate(660.42,449.40) scale(0.78,1)" text-anchor="middle" font-size="19.8" fill="#111" stroke="#111" stroke-width="0.3">10</text>
<text transform="translate(709.05,449.40) scale(0.78,1)" text-anchor="middle" font-size="19.8" fill="#111" stroke="#111" stroke-width="0.3">20</text>
<text transform="translate(757.67,449.40) scale(0.78,1)" text-anchor="middle" font-size="19.8" fill="#111" stroke="#111" stroke-width="0.3">30</text>
<text transform="translate(806.30,449.40) scale(0.78,1)" text-anchor="middle" font-size="19.8" fill="#111" stroke="#111" stroke-width="0.3">40</text>
<text transform="translate(854.92,449.40) scale(0.78,1)" text-anchor="middle" font-size="19.8" fill="#111" stroke="#111" stroke-width="0.3">50</text>
<text transform="translate(903.55,449.40) scale(0.78,1)" text-anchor="middle" font-size="19.8" fill="#111" stroke="#111" stroke-width="0.3">60</text>
<text transform="translate(952.17,449.40) scale(0.78,1)" text-anchor="middle" font-size="19.8" fill="#111" stroke="#111" stroke-width="0.3">70</text>
<text transform="translate(1000.80,449.40) scale(0.78,1)" text-anchor="middle" font-size="19.8" fill="#111" stroke="#111" stroke-width="0.3">80</text>
<text transform="translate(806.20,484.90) scale(0.823,1)" text-anchor="middle" font-size="23.6" fill="#111" stroke="#111" stroke-width="0.3">Cycle Number</text>
<text transform="translate(558.50,239.00) scale(0.84,1) rotate(-90)" text-anchor="middle" font-size="24.4" fill="#111" stroke="#111" stroke-width="0.3">Specific Capacity (mAh g<tspan dy="-9.5" font-size="15">-1</tspan><tspan dy="9.5">)</tspan></text>
<text transform="translate(621.50,179.30) scale(0.775,1)" text-anchor="start" font-size="16.3" fill="#111" stroke="#111" stroke-width="0.12">50</text>
<text transform="translate(621.50,202.30) scale(0.86,1)" text-anchor="start" font-size="15.0" fill="#111" stroke="#111" stroke-width="0.12">mA g<tspan dy="-6.3" dx="1" font-size="9">-1</tspan></text>
<text transform="translate(668.50,179.30) scale(0.775,1)" text-anchor="start" font-size="16.3" fill="#111" stroke="#111" stroke-width="0.12">100</text>
<text transform="translate(668.50,202.30) scale(0.86,1)" text-anchor="start" font-size="15.0" fill="#111" stroke="#111" stroke-width="0.12">mA g<tspan dy="-6.3" dx="1" font-size="9">-1</tspan></text>
<text transform="translate(716.80,180.00) scale(0.775,1)" text-anchor="start" font-size="16.3" fill="#111" stroke="#111" stroke-width="0.12">200</text>
<text transform="translate(716.80,205.00) scale(0.86,1)" text-anchor="start" font-size="15.0" fill="#111" stroke="#111" stroke-width="0.12">mA g<tspan dy="-6.3" dx="1" font-size="9">-1</tspan></text>
<text transform="translate(765.20,191.00) scale(0.775,1)" text-anchor="start" font-size="16.3" fill="#111" stroke="#111" stroke-width="0.12">500</text>
<text transform="translate(765.20,216.30) scale(0.86,1)" text-anchor="start" font-size="15.0" fill="#111" stroke="#111" stroke-width="0.12">mA g<tspan dy="-6.3" dx="1" font-size="9">-1</tspan></text>
<text transform="translate(814.30,226.30) scale(0.775,1)" text-anchor="start" font-size="16.3" fill="#111" stroke="#111" stroke-width="0.12">1000</text>
<text transform="translate(814.30,252.60) scale(0.86,1)" text-anchor="start" font-size="15.0" fill="#111" stroke="#111" stroke-width="0.12">mA g<tspan dy="-6.3" dx="1" font-size="9">-1</tspan></text>
<text transform="translate(862.00,147.40) scale(0.775,1)" text-anchor="start" font-size="16.3" fill="#111" stroke="#111" stroke-width="0.12">2000</text>
<text transform="translate(862.00,173.80) scale(0.86,1)" text-anchor="start" font-size="15.0" fill="#111" stroke="#111" stroke-width="0.12">mA g<tspan dy="-6.3" dx="1" font-size="9">-1</tspan></text>
<text transform="translate(910.80,147.40) scale(0.775,1)" text-anchor="start" font-size="16.3" fill="#111" stroke="#111" stroke-width="0.12">5000</text>
<text transform="translate(910.80,173.80) scale(0.86,1)" text-anchor="start" font-size="15.0" fill="#111" stroke="#111" stroke-width="0.12">mA g<tspan dy="-6.3" dx="1" font-size="9">-1</tspan></text>
<text transform="translate(960.60,250.00) scale(0.775,1)" text-anchor="start" font-size="16.3" fill="#111" stroke="#111" stroke-width="0.12">50</text>
<text transform="translate(960.60,273.80) scale(0.86,1)" text-anchor="start" font-size="15.0" fill="#111" stroke="#111" stroke-width="0.12">mA g<tspan dy="-6.3" dx="1" font-size="9">-1</tspan></text>
<g clip-path="url(#cb)">
<polyline points="616.66,152.38 621.52,153.90 626.39,149.78 631.25,147.65 636.11,145.82 640.97,143.68 645.84,141.55 650.70,139.72 655.56,137.58 660.42,137.28 665.29,139.56 670.15,138.95 675.01,138.65 679.88,136.97 684.74,134.84 689.60,133.62 694.46,132.70 699.32,131.48 704.19,129.96 709.05,128.59 713.91,135.91 718.77,136.67 723.64,136.06 728.50,136.67 733.36,131.94 738.22,133.62 743.09,133.01 747.95,133.31 752.81,131.18 757.67,128.89 762.54,143.53 767.40,144.60 772.26,147.04 777.12,147.34 781.99,147.95 786.85,148.26 791.71,147.34 796.57,147.95 801.44,148.56 806.30,147.95 811.16,170.98 816.02,177.39 820.89,181.05 825.75,183.49 830.61,185.31 835.47,186.54 840.34,187.76 845.20,189.59 850.06,190.81 854.92,192.03 859.79,224.97 864.65,232.90 869.51,239.30 874.38,244.18 879.24,249.06 884.10,253.03 888.96,258.21 893.82,261.87 898.69,266.14 903.55,269.50 908.41,396.68 913.27,394.24 918.14,393.02 923.00,392.72 927.86,393.02 932.72,393.32 937.59,394.55 942.45,395.76 947.31,396.07 952.17,396.68 957.04,122.18 961.90,114.25 966.76,108.15 971.62,106.62 976.49,104.19 981.35,101.44 986.21,101.44 991.07,98.39 995.94,94.73" fill="none" stroke="#222" stroke-width="1.1"/>
<polyline points="616.66,81.92 621.52,153.29 626.39,148.11 631.25,145.97 636.11,144.14 640.97,142.00 645.84,139.87 650.70,138.04 655.56,135.91 660.42,135.60 665.29,134.69 670.15,137.43 675.01,137.12 679.88,135.30 684.74,133.16 689.60,131.94 694.46,131.03 699.32,129.81 704.19,128.28 709.05,126.45 713.91,132.25 718.77,134.99 723.64,134.38 728.50,134.99 733.36,129.81 738.22,131.94 743.09,131.33 747.95,131.63 752.81,129.50 757.67,127.67 762.54,134.69 767.40,142.92 772.26,145.36 777.12,145.67 781.99,146.28 786.85,146.58 791.71,145.67 796.57,146.28 801.44,146.88 806.30,146.28 811.16,162.13 816.02,174.95 820.89,178.61 825.75,181.05 830.61,182.88 835.47,184.09 840.34,185.31 845.20,187.15 850.06,188.37 854.92,189.59 859.79,210.02 864.65,230.76 869.51,237.17 874.38,242.05 879.24,246.93 884.10,250.89 888.96,256.08 893.82,259.74 898.69,264.00 903.55,267.36 908.41,380.82 913.27,385.09 918.14,386.62 923.00,388.75 927.86,389.67 932.72,389.97 937.59,392.11 942.45,393.32 947.31,393.63 952.17,394.55 957.04,217.04 961.90,111.20 966.76,105.10 971.62,103.57 976.49,101.13 981.35,98.39 986.21,98.39 991.07,95.34 995.94,91.68" fill="none" stroke="#222" stroke-width="1.1"/>
<ellipse cx="616.66" cy="152.38" rx="3.1" ry="3.75" fill="#000" stroke="#000" stroke-width="1.0"/>
<ellipse cx="621.52" cy="153.90" rx="3.1" ry="3.75" fill="#000" stroke="#000" stroke-width="1.0"/>
<ellipse cx="626.39" cy="149.78" rx="3.1" ry="3.75" fill="#000" stroke="#000" stroke-width="1.0"/>
<ellipse cx="631.25" cy="147.65" rx="3.1" ry="3.75" fill="#000" stroke="#000" stroke-width="1.0"/>
<ellipse cx="636.11" cy="145.82" rx="3.1" ry="3.75" fill="#000" stroke="#000" stroke-width="1.0"/>
<ellipse cx="640.97" cy="143.68" rx="3.1" ry="3.75" fill="#000" stroke="#000" stroke-width="1.0"/>
<ellipse cx="645.84" cy="141.55" rx="3.1" ry="3.75" fill="#000" stroke="#000" stroke-width="1.0"/>
<ellipse cx="650.70" cy="139.72" rx="3.1" ry="3.75" fill="#000" stroke="#000" stroke-width="1.0"/>
<ellipse cx="655.56" cy="137.58" rx="3.1" ry="3.75" fill="#000" stroke="#000" stroke-width="1.0"/>
<ellipse cx="660.42" cy="137.28" rx="3.1" ry="3.75" fill="#000" stroke="#000" stroke-width="1.0"/>
<ellipse cx="665.29" cy="139.56" rx="3.1" ry="3.75" fill="#000" stroke="#000" stroke-width="1.0"/>
<ellipse cx="670.15" cy="138.95" rx="3.1" ry="3.75" fill="#000" stroke="#000" stroke-width="1.0"/>
<ellipse cx="675.01" cy="138.65" rx="3.1" ry="3.75" fill="#000" stroke="#000" stroke-width="1.0"/>
<ellipse cx="679.88" cy="136.97" rx="3.1" ry="3.75" fill="#000" stroke="#000" stroke-width="1.0"/>
<ellipse cx="684.74" cy="134.84" rx="3.1" ry="3.75" fill="#000" stroke="#000" stroke-width="1.0"/>
<ellipse cx="689.60" cy="133.62" rx="3.1" ry="3.75" fill="#000" stroke="#000" stroke-width="1.0"/>
<ellipse cx="694.46" cy="132.70" rx="3.1" ry="3.75" fill="#000" stroke="#000" stroke-width="1.0"/>
<ellipse cx="699.32" cy="131.48" rx="3.1" ry="3.75" fill="#000" stroke="#000" stroke-width="1.0"/>
<ellipse cx="704.19" cy="129.96" rx="3.1" ry="3.75" fill="#000" stroke="#000" stroke-width="1.0"/>
<ellipse cx="709.05" cy="128.59" rx="3.1" ry="3.75" fill="#000" stroke="#000" stroke-width="1.0"/>
<ellipse cx="713.91" cy="135.91" rx="3.1" ry="3.75" fill="#000" stroke="#000" stroke-width="1.0"/>
<ellipse cx="718.77" cy="136.67" rx="3.1" ry="3.75" fill="#000" stroke="#000" stroke-width="1.0"/>
<ellipse cx="723.64" cy="136.06" rx="3.1" ry="3.75" fill="#000" stroke="#000" stroke-width="1.0"/>
<ellipse cx="728.50" cy="136.67" rx="3.1" ry="3.75" fill="#000" stroke="#000" stroke-width="1.0"/>
<ellipse cx="733.36" cy="131.94" rx="3.1" ry="3.75" fill="#000" stroke="#000" stroke-width="1.0"/>
<ellipse cx="738.22" cy="133.62" rx="3.1" ry="3.75" fill="#000" stroke="#000" stroke-width="1.0"/>
<ellipse cx="743.09" cy="133.01" rx="3.1" ry="3.75" fill="#000" stroke="#000" stroke-width="1.0"/>
<ellipse cx="747.95" cy="133.31" rx="3.1" ry="3.75" fill="#000" stroke="#000" stroke-width="1.0"/>
<ellipse cx="752.81" cy="131.18" rx="3.1" ry="3.75" fill="#000" stroke="#000" stroke-width="1.0"/>
<ellipse cx="757.67" cy="128.89" rx="3.1" ry="3.75" fill="#000" stroke="#000" stroke-width="1.0"/>
<ellipse cx="762.54" cy="143.53" rx="3.1" ry="3.75" fill="#000" stroke="#000" stroke-width="1.0"/>
<ellipse cx="767.40" cy="144.60" rx="3.1" ry="3.75" fill="#000" stroke="#000" stroke-width="1.0"/>
<ellipse cx="772.26" cy="147.04" rx="3.1" ry="3.75" fill="#000" stroke="#000" stroke-width="1.0"/>
<ellipse cx="777.12" cy="147.34" rx="3.1" ry="3.75" fill="#000" stroke="#000" stroke-width="1.0"/>
<ellipse cx="781.99" cy="147.95" rx="3.1" ry="3.75" fill="#000" stroke="#000" stroke-width="1.0"/>
<ellipse cx="786.85" cy="148.26" rx="3.1" ry="3.75" fill="#000" stroke="#000" stroke-width="1.0"/>
<ellipse cx="791.71" cy="147.34" rx="3.1" ry="3.75" fill="#000" stroke="#000" stroke-width="1.0"/>
<ellipse cx="796.57" cy="147.95" rx="3.1" ry="3.75" fill="#000" stroke="#000" stroke-width="1.0"/>
<ellipse cx="801.44" cy="148.56" rx="3.1" ry="3.75" fill="#000" stroke="#000" stroke-width="1.0"/>
<ellipse cx="806.30" cy="147.95" rx="3.1" ry="3.75" fill="#000" stroke="#000" stroke-width="1.0"/>
<ellipse cx="811.16" cy="170.98" rx="3.1" ry="3.75" fill="#000" stroke="#000" stroke-width="1.0"/>
<ellipse cx="816.02" cy="177.39" rx="3.1" ry="3.75" fill="#000" stroke="#000" stroke-width="1.0"/>
<ellipse cx="820.89" cy="181.05" rx="3.1" ry="3.75" fill="#000" stroke="#000" stroke-width="1.0"/>
<ellipse cx="825.75" cy="183.49" rx="3.1" ry="3.75" fill="#000" stroke="#000" stroke-width="1.0"/>
<ellipse cx="830.61" cy="185.31" rx="3.1" ry="3.75" fill="#000" stroke="#000" stroke-width="1.0"/>
<ellipse cx="835.47" cy="186.54" rx="3.1" ry="3.75" fill="#000" stroke="#000" stroke-width="1.0"/>
<ellipse cx="840.34" cy="187.76" rx="3.1" ry="3.75" fill="#000" stroke="#000" stroke-width="1.0"/>
<ellipse cx="845.20" cy="189.59" rx="3.1" ry="3.75" fill="#000" stroke="#000" stroke-width="1.0"/>
<ellipse cx="850.06" cy="190.81" rx="3.1" ry="3.75" fill="#000" stroke="#000" stroke-width="1.0"/>
<ellipse cx="854.92" cy="192.03" rx="3.1" ry="3.75" fill="#000" stroke="#000" stroke-width="1.0"/>
<ellipse cx="859.79" cy="224.97" rx="3.1" ry="3.75" fill="#000" stroke="#000" stroke-width="1.0"/>
<ellipse cx="864.65" cy="232.90" rx="3.1" ry="3.75" fill="#000" stroke="#000" stroke-width="1.0"/>
<ellipse cx="869.51" cy="239.30" rx="3.1" ry="3.75" fill="#000" stroke="#000" stroke-width="1.0"/>
<ellipse cx="874.38" cy="244.18" rx="3.1" ry="3.75" fill="#000" stroke="#000" stroke-width="1.0"/>
<ellipse cx="879.24" cy="249.06" rx="3.1" ry="3.75" fill="#000" stroke="#000" stroke-width="1.0"/>
<ellipse cx="884.10" cy="253.03" rx="3.1" ry="3.75" fill="#000" stroke="#000" stroke-width="1.0"/>
<ellipse cx="888.96" cy="258.21" rx="3.1" ry="3.75" fill="#000" stroke="#000" stroke-width="1.0"/>
<ellipse cx="893.82" cy="261.87" rx="3.1" ry="3.75" fill="#000" stroke="#000" stroke-width="1.0"/>
<ellipse cx="898.69" cy="266.14" rx="3.1" ry="3.75" fill="#000" stroke="#000" stroke-width="1.0"/>
<ellipse cx="903.55" cy="269.50" rx="3.1" ry="3.75" fill="#000" stroke="#000" stroke-width="1.0"/>
<ellipse cx="908.41" cy="396.68" rx="3.1" ry="3.75" fill="#000" stroke="#000" stroke-width="1.0"/>
<ellipse cx="913.27" cy="394.24" rx="3.1" ry="3.75" fill="#000" stroke="#000" stroke-width="1.0"/>
<ellipse cx="918.14" cy="393.02" rx="3.1" ry="3.75" fill="#000" stroke="#000" stroke-width="1.0"/>
<ellipse cx="923.00" cy="392.72" rx="3.1" ry="3.75" fill="#000" stroke="#000" stroke-width="1.0"/>
<ellipse cx="927.86" cy="393.02" rx="3.1" ry="3.75" fill="#000" stroke="#000" stroke-width="1.0"/>
<ellipse cx="932.72" cy="393.32" rx="3.1" ry="3.75" fill="#000" stroke="#000" stroke-width="1.0"/>
<ellipse cx="937.59" cy="394.55" rx="3.1" ry="3.75" fill="#000" stroke="#000" stroke-width="1.0"/>
<ellipse cx="942.45" cy="395.76" rx="3.1" ry="3.75" fill="#000" stroke="#000" stroke-width="1.0"/>
<ellipse cx="947.31" cy="396.07" rx="3.1" ry="3.75" fill="#000" stroke="#000" stroke-width="1.0"/>
<ellipse cx="952.17" cy="396.68" rx="3.1" ry="3.75" fill="#000" stroke="#000" stroke-width="1.0"/>
<ellipse cx="957.04" cy="122.18" rx="3.1" ry="3.75" fill="#000" stroke="#000" stroke-width="1.0"/>
<ellipse cx="961.90" cy="114.25" rx="3.1" ry="3.75" fill="#000" stroke="#000" stroke-width="1.0"/>
<ellipse cx="966.76" cy="108.15" rx="3.1" ry="3.75" fill="#000" stroke="#000" stroke-width="1.0"/>
<ellipse cx="971.62" cy="106.62" rx="3.1" ry="3.75" fill="#000" stroke="#000" stroke-width="1.0"/>
<ellipse cx="976.49" cy="104.19" rx="3.1" ry="3.75" fill="#000" stroke="#000" stroke-width="1.0"/>
<ellipse cx="981.35" cy="101.44" rx="3.1" ry="3.75" fill="#000" stroke="#000" stroke-width="1.0"/>
<ellipse cx="986.21" cy="101.44" rx="3.1" ry="3.75" fill="#000" stroke="#000" stroke-width="1.0"/>
<ellipse cx="991.07" cy="98.39" rx="3.1" ry="3.75" fill="#000" stroke="#000" stroke-width="1.0"/>
<ellipse cx="995.94" cy="94.73" rx="3.1" ry="3.75" fill="#000" stroke="#000" stroke-width="1.0"/>
<ellipse cx="616.66" cy="81.92" rx="3.1" ry="3.75" fill="#fff" stroke="#000" stroke-width="1.0"/>
<ellipse cx="621.52" cy="153.29" rx="3.1" ry="3.75" fill="#fff" stroke="#000" stroke-width="1.0"/>
<ellipse cx="626.39" cy="148.11" rx="3.1" ry="3.75" fill="#fff" stroke="#000" stroke-width="1.0"/>
<ellipse cx="631.25" cy="145.97" rx="3.1" ry="3.75" fill="#fff" stroke="#000" stroke-width="1.0"/>
<ellipse cx="636.11" cy="144.14" rx="3.1" ry="3.75" fill="#fff" stroke="#000" stroke-width="1.0"/>
<ellipse cx="640.97" cy="142.00" rx="3.1" ry="3.75" fill="#fff" stroke="#000" stroke-width="1.0"/>
<ellipse cx="645.84" cy="139.87" rx="3.1" ry="3.75" fill="#fff" stroke="#000" stroke-width="1.0"/>
<ellipse cx="650.70" cy="138.04" rx="3.1" ry="3.75" fill="#fff" stroke="#000" stroke-width="1.0"/>
<ellipse cx="655.56" cy="135.91" rx="3.1" ry="3.75" fill="#fff" stroke="#000" stroke-width="1.0"/>
<ellipse cx="660.42" cy="135.60" rx="3.1" ry="3.75" fill="#fff" stroke="#000" stroke-width="1.0"/>
<ellipse cx="665.29" cy="134.69" rx="3.1" ry="3.75" fill="#fff" stroke="#000" stroke-width="1.0"/>
<ellipse cx="670.15" cy="137.43" rx="3.1" ry="3.75" fill="#fff" stroke="#000" stroke-width="1.0"/>
<ellipse cx="675.01" cy="137.12" rx="3.1" ry="3.75" fill="#fff" stroke="#000" stroke-width="1.0"/>
<ellipse cx="679.88" cy="135.30" rx="3.1" ry="3.75" fill="#fff" stroke="#000" stroke-width="1.0"/>
<ellipse cx="684.74" cy="133.16" rx="3.1" ry="3.75" fill="#fff" stroke="#000" stroke-width="1.0"/>
<ellipse cx="689.60" cy="131.94" rx="3.1" ry="3.75" fill="#fff" stroke="#000" stroke-width="1.0"/>
<ellipse cx="694.46" cy="131.03" rx="3.1" ry="3.75" fill="#fff" stroke="#000" stroke-width="1.0"/>
<ellipse cx="699.32" cy="129.81" rx="3.1" ry="3.75" fill="#fff" stroke="#000" stroke-width="1.0"/>
<ellipse cx="704.19" cy="128.28" rx="3.1" ry="3.75" fill="#fff" stroke="#000" stroke-width="1.0"/>
<ellipse cx="709.05" cy="126.45" rx="3.1" ry="3.75" fill="#fff" stroke="#000" stroke-width="1.0"/>
<ellipse cx="713.91" cy="132.25" rx="3.1" ry="3.75" fill="#fff" stroke="#000" stroke-width="1.0"/>
<ellipse cx="718.77" cy="134.99" rx="3.1" ry="3.75" fill="#fff" stroke="#000" stroke-width="1.0"/>
<ellipse cx="723.64" cy="134.38" rx="3.1" ry="3.75" fill="#fff" stroke="#000" stroke-width="1.0"/>
<ellipse cx="728.50" cy="134.99" rx="3.1" ry="3.75" fill="#fff" stroke="#000" stroke-width="1.0"/>
<ellipse cx="733.36" cy="129.81" rx="3.1" ry="3.75" fill="#fff" stroke="#000" stroke-width="1.0"/>
<ellipse cx="738.22" cy="131.94" rx="3.1" ry="3.75" fill="#fff" stroke="#000" stroke-width="1.0"/>
<ellipse cx="743.09" cy="131.33" rx="3.1" ry="3.75" fill="#fff" stroke="#000" stroke-width="1.0"/>
<ellipse cx="747.95" cy="131.63" rx="3.1" ry="3.75" fill="#fff" stroke="#000" stroke-width="1.0"/>
<ellipse cx="752.81" cy="129.50" rx="3.1" ry="3.75" fill="#fff" stroke="#000" stroke-width="1.0"/>
<ellipse cx="757.67" cy="127.67" rx="3.1" ry="3.75" fill="#fff" stroke="#000" stroke-width="1.0"/>
<ellipse cx="762.54" cy="134.69" rx="3.1" ry="3.75" fill="#fff" stroke="#000" stroke-width="1.0"/>
<ellipse cx="767.40" cy="142.92" rx="3.1" ry="3.75" fill="#fff" stroke="#000" stroke-width="1.0"/>
<ellipse cx="772.26" cy="145.36" rx="3.1" ry="3.75" fill="#fff" stroke="#000" stroke-width="1.0"/>
<ellipse cx="777.12" cy="145.67" rx="3.1" ry="3.75" fill="#fff" stroke="#000" stroke-width="1.0"/>
<ellipse cx="781.99" cy="146.28" rx="3.1" ry="3.75" fill="#fff" stroke="#000" stroke-width="1.0"/>
<ellipse cx="786.85" cy="146.58" rx="3.1" ry="3.75" fill="#fff" stroke="#000" stroke-width="1.0"/>
<ellipse cx="791.71" cy="145.67" rx="3.1" ry="3.75" fill="#fff" stroke="#000" stroke-width="1.0"/>
<ellipse cx="796.57" cy="146.28" rx="3.1" ry="3.75" fill="#fff" stroke="#000" stroke-width="1.0"/>
<ellipse cx="801.44" cy="146.88" rx="3.1" ry="3.75" fill="#fff" stroke="#000" stroke-width="1.0"/>
<ellipse cx="806.30" cy="146.28" rx="3.1" ry="3.75" fill="#fff" stroke="#000" stroke-width="1.0"/>
<ellipse cx="811.16" cy="162.13" rx="3.1" ry="3.75" fill="#fff" stroke="#000" stroke-width="1.0"/>
<ellipse cx="816.02" cy="174.95" rx="3.1" ry="3.75" fill="#fff" stroke="#000" stroke-width="1.0"/>
<ellipse cx="820.89" cy="178.61" rx="3.1" ry="3.75" fill="#fff" stroke="#000" stroke-width="1.0"/>
<ellipse cx="825.75" cy="181.05" rx="3.1" ry="3.75" fill="#fff" stroke="#000" stroke-width="1.0"/>
<ellipse cx="830.61" cy="182.88" rx="3.1" ry="3.75" fill="#fff" stroke="#000" stroke-width="1.0"/>
<ellipse cx="835.47" cy="184.09" rx="3.1" ry="3.75" fill="#fff" stroke="#000" stroke-width="1.0"/>
<ellipse cx="840.34" cy="185.31" rx="3.1" ry="3.75" fill="#fff" stroke="#000" stroke-width="1.0"/>
<ellipse cx="845.20" cy="187.15" rx="3.1" ry="3.75" fill="#fff" stroke="#000" stroke-width="1.0"/>
<ellipse cx="850.06" cy="188.37" rx="3.1" ry="3.75" fill="#fff" stroke="#000" stroke-width="1.0"/>
<ellipse cx="854.92" cy="189.59" rx="3.1" ry="3.75" fill="#fff" stroke="#000" stroke-width="1.0"/>
<ellipse cx="859.79" cy="210.02" rx="3.1" ry="3.75" fill="#fff" stroke="#000" stroke-width="1.0"/>
<ellipse cx="864.65" cy="230.76" rx="3.1" ry="3.75" fill="#fff" stroke="#000" stroke-width="1.0"/>
<ellipse cx="869.51" cy="237.17" rx="3.1" ry="3.75" fill="#fff" stroke="#000" stroke-width="1.0"/>
<ellipse cx="874.38" cy="242.05" rx="3.1" ry="3.75" fill="#fff" stroke="#000" stroke-width="1.0"/>
<ellipse cx="879.24" cy="246.93" rx="3.1" ry="3.75" fill="#fff" stroke="#000" stroke-width="1.0"/>
<ellipse cx="884.10" cy="250.89" rx="3.1" ry="3.75" fill="#fff" stroke="#000" stroke-width="1.0"/>
<ellipse cx="888.96" cy="256.08" rx="3.1" ry="3.75" fill="#fff" stroke="#000" stroke-width="1.0"/>
<ellipse cx="893.82" cy="259.74" rx="3.1" ry="3.75" fill="#fff" stroke="#000" stroke-width="1.0"/>
<ellipse cx="898.69" cy="264.00" rx="3.1" ry="3.75" fill="#fff" stroke="#000" stroke-width="1.0"/>
<ellipse cx="903.55" cy="267.36" rx="3.1" ry="3.75" fill="#fff" stroke="#000" stroke-width="1.0"/>
<ellipse cx="908.41" cy="380.82" rx="3.1" ry="3.75" fill="#fff" stroke="#000" stroke-width="1.0"/>
<ellipse cx="913.27" cy="385.09" rx="3.1" ry="3.75" fill="#fff" stroke="#000" stroke-width="1.0"/>
<ellipse cx="918.14" cy="386.62" rx="3.1" ry="3.75" fill="#fff" stroke="#000" stroke-width="1.0"/>
<ellipse cx="923.00" cy="388.75" rx="3.1" ry="3.75" fill="#fff" stroke="#000" stroke-width="1.0"/>
<ellipse cx="927.86" cy="389.67" rx="3.1" ry="3.75" fill="#fff" stroke="#000" stroke-width="1.0"/>
<ellipse cx="932.72" cy="389.97" rx="3.1" ry="3.75" fill="#fff" stroke="#000" stroke-width="1.0"/>
<ellipse cx="937.59" cy="392.11" rx="3.1" ry="3.75" fill="#fff" stroke="#000" stroke-width="1.0"/>
<ellipse cx="942.45" cy="393.32" rx="3.1" ry="3.75" fill="#fff" stroke="#000" stroke-width="1.0"/>
<ellipse cx="947.31" cy="393.63" rx="3.1" ry="3.75" fill="#fff" stroke="#000" stroke-width="1.0"/>
<ellipse cx="952.17" cy="394.55" rx="3.1" ry="3.75" fill="#fff" stroke="#000" stroke-width="1.0"/>
<ellipse cx="957.04" cy="217.04" rx="3.1" ry="3.75" fill="#fff" stroke="#000" stroke-width="1.0"/>
<ellipse cx="961.90" cy="111.20" rx="3.1" ry="3.75" fill="#fff" stroke="#000" stroke-width="1.0"/>
<ellipse cx="966.76" cy="105.10" rx="3.1" ry="3.75" fill="#fff" stroke="#000" stroke-width="1.0"/>
<ellipse cx="971.62" cy="103.57" rx="3.1" ry="3.75" fill="#fff" stroke="#000" stroke-width="1.0"/>
<ellipse cx="976.49" cy="101.13" rx="3.1" ry="3.75" fill="#fff" stroke="#000" stroke-width="1.0"/>
<ellipse cx="981.35" cy="98.39" rx="3.1" ry="3.75" fill="#fff" stroke="#000" stroke-width="1.0"/>
<ellipse cx="986.21" cy="98.39" rx="3.1" ry="3.75" fill="#fff" stroke="#000" stroke-width="1.0"/>
<ellipse cx="991.07" cy="95.34" rx="3.1" ry="3.75" fill="#fff" stroke="#000" stroke-width="1.0"/>
<ellipse cx="995.94" cy="91.68" rx="3.1" ry="3.75" fill="#fff" stroke="#000" stroke-width="1.0"/>
</g>
<rect x="611.8" y="56.3" width="389.00" height="366.00" fill="none" stroke="#3a3a3a" stroke-width="2.0"/>
<rect x="634.2" y="60.9" width="108.6" height="49.6" rx="1.5" fill="#fff" stroke="#b4b4b4" stroke-width="1.1"/>
<path d="M635.8,74H648.4M657.4,74H670.2M635.8,96.8H648.4M657.4,96.8H670.2" stroke="#333" stroke-width="1.4"/>
<ellipse cx="652.9" cy="74" rx="3.1" ry="3.75" fill="#000" stroke="#000" stroke-width="1.0"/>
<ellipse cx="652.9" cy="96.8" rx="3.1" ry="3.75" fill="#fff" stroke="#000" stroke-width="1.0"/>
<text transform="translate(674.00,80.40) scale(0.89,1)" text-anchor="start" font-size="17.4" fill="#111" stroke="#111" stroke-width="0.3">charge</text>
<text transform="translate(674.00,103.20) scale(0.89,1)" text-anchor="start" font-size="17.4" fill="#111" stroke="#111" stroke-width="0.3">discharge</text>
</svg></body></html>
